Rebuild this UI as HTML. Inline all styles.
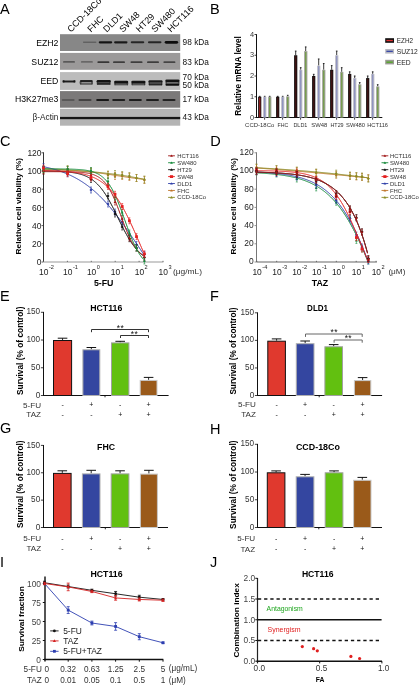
<!DOCTYPE html>
<html><head><meta charset="utf-8"><title>Figure</title>
<style>
html,body{margin:0;padding:0;background:#fff;width:419px;height:685px;overflow:hidden;}
svg{display:block;will-change:transform;font-family:"Liberation Sans", sans-serif;}
</style></head><body>
<svg width="419" height="685" viewBox="0 0 419 685">

<text x="0.00" y="13.50" font-size="14.5" >A</text>
<text x="210.00" y="13.60" font-size="14.5" >B</text>
<text x="0.00" y="145.80" font-size="14.5" >C</text>
<text x="210.30" y="145.80" font-size="14.5" >D</text>
<text x="0.00" y="300.80" font-size="14.5" >E</text>
<text x="210.00" y="300.90" font-size="14.5" >F</text>
<text x="0.00" y="433.30" font-size="14.5" >G</text>
<text x="210.00" y="433.50" font-size="14.5" >H</text>
<text x="0.00" y="566.70" font-size="14.5" >I</text>
<text x="210.00" y="566.90" font-size="14.5" >J</text>
<defs><filter id="bl" x="-20%" y="-100%" width="140%" height="300%"><feGaussianBlur stdDeviation="0.75"/></filter><filter id="bl2" x="-20%" y="-100%" width="140%" height="300%"><feGaussianBlur stdDeviation="0.45"/></filter></defs>
<rect x="60.00" y="34.20" width="120.20" height="16.80" fill="#878787" />
<rect x="60.00" y="52.90" width="120.20" height="16.90" fill="#9b9999" />
<rect x="60.00" y="72.10" width="120.20" height="17.80" fill="#bcbcbc" />
<rect x="60.00" y="91.10" width="120.20" height="16.60" fill="#7b7979" />
<rect x="60.00" y="108.80" width="120.20" height="16.90" fill="#b4b4b4" />
<rect x="82.95" y="41.60" width="13.50" height="1.40" rx="0.70" fill="#111" opacity="0.3" filter="url(#bl)"/>
<rect x="98.75" y="41.15" width="13.50" height="2.30" rx="1.15" fill="#111" opacity="0.95" filter="url(#bl)"/>
<rect x="114.05" y="41.20" width="13.50" height="2.20" rx="1.10" fill="#111" opacity="0.9" filter="url(#bl)"/>
<rect x="130.75" y="41.30" width="13.50" height="2.00" rx="1.00" fill="#111" opacity="0.8" filter="url(#bl)"/>
<rect x="147.95" y="41.30" width="13.50" height="2.00" rx="1.00" fill="#111" opacity="0.8" filter="url(#bl)"/>
<rect x="164.65" y="40.90" width="13.50" height="2.80" rx="1.40" fill="#111" opacity="1.0" filter="url(#bl)"/>
<rect x="63.00" y="61.05" width="12.00" height="1.70" rx="0.85" fill="#111" opacity="0.45" filter="url(#bl)"/>
<rect x="80.90" y="61.05" width="12.00" height="1.70" rx="0.85" fill="#111" opacity="0.35" filter="url(#bl)"/>
<rect x="97.40" y="61.35" width="12.00" height="1.70" rx="0.85" fill="#111" opacity="0.7" filter="url(#bl)"/>
<rect x="113.00" y="61.35" width="12.00" height="1.70" rx="0.85" fill="#111" opacity="0.65" filter="url(#bl)"/>
<rect x="130.50" y="61.35" width="12.00" height="1.70" rx="0.85" fill="#111" opacity="0.65" filter="url(#bl)"/>
<rect x="147.00" y="61.35" width="12.00" height="1.70" rx="0.85" fill="#111" opacity="0.65" filter="url(#bl)"/>
<rect x="163.40" y="61.35" width="12.00" height="1.70" rx="0.85" fill="#111" opacity="0.6" filter="url(#bl)"/>
<rect x="63.00" y="80.40" width="12.00" height="2.00" rx="1.00" fill="#111" opacity="0.9" filter="url(#bl2)"/>
<rect x="62.40" y="80.00" width="2.20" height="2.80" rx="1.40" fill="#111" opacity="0.75" filter="url(#bl2)"/>
<rect x="73.40" y="80.00" width="2.20" height="2.80" rx="1.40" fill="#111" opacity="0.75" filter="url(#bl2)"/>
<rect x="80.80" y="81.05" width="11.00" height="2.50" rx="1.25" fill="#111" opacity="0.25" filter="url(#bl2)"/>
<rect x="80.05" y="80.10" width="12.50" height="1.80" rx="0.90" fill="#111" opacity="0.85" filter="url(#bl2)"/>
<rect x="80.05" y="83.15" width="12.50" height="1.50" rx="0.75" fill="#111" opacity="0.6" filter="url(#bl2)"/>
<rect x="79.60" y="80.40" width="1.80" height="4.00" rx="2.00" fill="#111" opacity="0.6" filter="url(#bl2)"/>
<rect x="91.20" y="80.40" width="1.80" height="4.00" rx="2.00" fill="#111" opacity="0.6" filter="url(#bl2)"/>
<rect x="97.20" y="81.20" width="13.00" height="2.90" rx="1.45" fill="#111" opacity="0.45" filter="url(#bl2)"/>
<rect x="96.70" y="80.00" width="14.00" height="2.40" rx="1.20" fill="#111" opacity="0.95" filter="url(#bl2)"/>
<rect x="96.95" y="83.10" width="13.50" height="2.00" rx="1.00" fill="#111" opacity="0.7" filter="url(#bl2)"/>
<rect x="96.60" y="80.20" width="1.60" height="4.90" rx="2.45" fill="#111" opacity="0.5" filter="url(#bl2)"/>
<rect x="109.20" y="80.20" width="1.60" height="4.90" rx="2.45" fill="#111" opacity="0.5" filter="url(#bl2)"/>
<rect x="114.70" y="82.00" width="13.00" height="2.50" rx="1.25" fill="#111" opacity="0.45" filter="url(#bl2)"/>
<rect x="114.20" y="80.80" width="14.00" height="2.40" rx="1.20" fill="#111" opacity="0.95" filter="url(#bl2)"/>
<rect x="114.45" y="83.50" width="13.50" height="2.00" rx="1.00" fill="#111" opacity="0.44999999999999996" filter="url(#bl2)"/>
<rect x="114.10" y="81.00" width="1.60" height="4.50" rx="2.25" fill="#111" opacity="0.5" filter="url(#bl2)"/>
<rect x="126.70" y="81.00" width="1.60" height="4.50" rx="2.25" fill="#111" opacity="0.5" filter="url(#bl2)"/>
<rect x="131.90" y="82.00" width="13.00" height="2.50" rx="1.25" fill="#111" opacity="0.45" filter="url(#bl2)"/>
<rect x="131.40" y="80.80" width="14.00" height="2.40" rx="1.20" fill="#111" opacity="0.95" filter="url(#bl2)"/>
<rect x="131.65" y="83.50" width="13.50" height="2.00" rx="1.00" fill="#111" opacity="0.44999999999999996" filter="url(#bl2)"/>
<rect x="131.30" y="81.00" width="1.60" height="4.50" rx="2.25" fill="#111" opacity="0.5" filter="url(#bl2)"/>
<rect x="143.90" y="81.00" width="1.60" height="4.50" rx="2.25" fill="#111" opacity="0.5" filter="url(#bl2)"/>
<rect x="149.00" y="81.40" width="13.00" height="3.10" rx="1.55" fill="#111" opacity="0.45" filter="url(#bl2)"/>
<rect x="148.50" y="80.20" width="14.00" height="2.40" rx="1.20" fill="#111" opacity="0.9" filter="url(#bl2)"/>
<rect x="148.75" y="83.50" width="13.50" height="2.00" rx="1.00" fill="#111" opacity="0.7999999999999999" filter="url(#bl2)"/>
<rect x="148.40" y="80.40" width="1.60" height="5.10" rx="2.55" fill="#111" opacity="0.5" filter="url(#bl2)"/>
<rect x="161.00" y="80.40" width="1.60" height="5.10" rx="2.55" fill="#111" opacity="0.5" filter="url(#bl2)"/>
<rect x="165.90" y="80.70" width="13.00" height="4.00" rx="2.00" fill="#111" opacity="0.45" filter="url(#bl2)"/>
<rect x="165.40" y="79.50" width="14.00" height="2.40" rx="1.20" fill="#111" opacity="0.95" filter="url(#bl2)"/>
<rect x="165.65" y="83.70" width="13.50" height="2.00" rx="1.00" fill="#111" opacity="1" filter="url(#bl2)"/>
<rect x="165.30" y="79.70" width="1.60" height="6.00" rx="3.00" fill="#111" opacity="0.5" filter="url(#bl2)"/>
<rect x="177.90" y="79.70" width="1.60" height="6.00" rx="3.00" fill="#111" opacity="0.5" filter="url(#bl2)"/>
<rect x="61.70" y="99.10" width="13.00" height="2.00" rx="1.00" fill="#111" opacity="0.3" filter="url(#bl)"/>
<rect x="78.50" y="99.10" width="13.00" height="2.00" rx="1.00" fill="#111" opacity="0.5" filter="url(#bl)"/>
<rect x="96.10" y="99.10" width="13.00" height="2.00" rx="1.00" fill="#111" opacity="0.9" filter="url(#bl)"/>
<rect x="112.20" y="99.10" width="13.00" height="2.00" rx="1.00" fill="#111" opacity="0.85" filter="url(#bl)"/>
<rect x="128.90" y="99.10" width="13.00" height="2.00" rx="1.00" fill="#111" opacity="0.85" filter="url(#bl)"/>
<rect x="146.00" y="99.10" width="13.00" height="2.00" rx="1.00" fill="#111" opacity="0.85" filter="url(#bl)"/>
<rect x="162.50" y="99.10" width="13.00" height="2.00" rx="1.00" fill="#111" opacity="0.8" filter="url(#bl)"/>
<rect x="60.00" y="116.9" width="120.20" height="2.3" fill="#111" opacity="0.95" filter="url(#bl2)"/>
<text x="58.40" y="46.00" font-size="8.7" text-anchor="end" >EZH2</text>
<text x="182.60" y="45.30" font-size="8.3" fill="#111" >98 kDa</text>
<text x="58.40" y="65.00" font-size="8.7" text-anchor="end" >SUZ12</text>
<text x="182.60" y="65.00" font-size="8.3" fill="#111" >83 kDa</text>
<text x="58.40" y="84.00" font-size="8.7" text-anchor="end" >EED</text>
<text x="182.60" y="79.60" font-size="8.3" fill="#111" >70 kDa</text>
<text x="182.60" y="87.60" font-size="8.3" fill="#111" >50 kDa</text>
<text x="58.40" y="102.40" font-size="8.7" text-anchor="end" >H3K27me3</text>
<text x="182.60" y="102.20" font-size="8.3" fill="#111" >17 kDa</text>
<text x="58.40" y="119.90" font-size="8.7" text-anchor="end" fill="#222" textLength="25.80" lengthAdjust="spacingAndGlyphs" >&#946;-Actin</text>
<text x="182.60" y="119.70" font-size="8.3" fill="#111" >43 kDa</text>
<text x="71.00" y="32.70" font-size="9.0" transform="rotate(-45 71.00 32.70)" >CCD-18Co</text>
<text x="91.00" y="32.70" font-size="9.0" transform="rotate(-45 91.00 32.70)" >FHC</text>
<text x="106.80" y="32.70" font-size="9.0" transform="rotate(-45 106.80 32.70)" >DLD1</text>
<text x="123.00" y="32.70" font-size="9.0" transform="rotate(-45 123.00 32.70)" >SW48</text>
<text x="139.50" y="32.70" font-size="9.0" transform="rotate(-45 139.50 32.70)" >HT29</text>
<text x="155.00" y="32.70" font-size="9.0" transform="rotate(-45 155.00 32.70)" >SW480</text>
<text x="171.00" y="32.70" font-size="9.0" transform="rotate(-45 171.00 32.70)" >HCT116</text>
<line x1="256.50" y1="34.20" x2="256.50" y2="118.00" stroke="#111" stroke-width="1" />
<line x1="256.00" y1="117.50" x2="382.30" y2="117.50" stroke="#111" stroke-width="1" />
<line x1="254.50" y1="117.50" x2="256.50" y2="117.50" stroke="#111" stroke-width="0.8" />
<text x="254.00" y="119.50" font-size="7.4" text-anchor="end" fill="#333" >0</text>
<line x1="254.50" y1="96.75" x2="256.50" y2="96.75" stroke="#111" stroke-width="0.8" />
<text x="254.00" y="98.75" font-size="7.4" text-anchor="end" fill="#333" >1</text>
<line x1="254.50" y1="76.00" x2="256.50" y2="76.00" stroke="#111" stroke-width="0.8" />
<text x="254.00" y="78.00" font-size="7.4" text-anchor="end" fill="#333" >2</text>
<line x1="254.50" y1="55.25" x2="256.50" y2="55.25" stroke="#111" stroke-width="0.8" />
<text x="254.00" y="57.25" font-size="7.4" text-anchor="end" fill="#333" >3</text>
<line x1="254.50" y1="34.50" x2="256.50" y2="34.50" stroke="#111" stroke-width="0.8" />
<text x="254.00" y="36.50" font-size="7.4" text-anchor="end" fill="#333" >4</text>
<line x1="264.60" y1="117.50" x2="264.60" y2="119.70" stroke="#111" stroke-width="0.8" />
<line x1="282.60" y1="117.50" x2="282.60" y2="119.70" stroke="#111" stroke-width="0.8" />
<line x1="300.60" y1="117.50" x2="300.60" y2="119.70" stroke="#111" stroke-width="0.8" />
<line x1="318.60" y1="117.50" x2="318.60" y2="119.70" stroke="#111" stroke-width="0.8" />
<line x1="336.60" y1="117.50" x2="336.60" y2="119.70" stroke="#111" stroke-width="0.8" />
<line x1="354.60" y1="117.50" x2="354.60" y2="119.70" stroke="#111" stroke-width="0.8" />
<line x1="372.60" y1="117.50" x2="372.60" y2="119.70" stroke="#111" stroke-width="0.8" />
<line x1="259.70" y1="96.75" x2="259.70" y2="96.34" stroke="#222" stroke-width="0.9" />
<line x1="258.90" y1="96.34" x2="260.50" y2="96.34" stroke="#222" stroke-width="1.0" />
<rect x="258.10" y="96.75" width="3.20" height="20.75" fill="#121010" />
<rect x="258.90" y="97.55" width="1.60" height="19.95" fill="#8a1c1c" />
<line x1="264.70" y1="96.75" x2="264.70" y2="96.34" stroke="#222" stroke-width="0.9" />
<line x1="263.90" y1="96.34" x2="265.50" y2="96.34" stroke="#222" stroke-width="1.0" />
<rect x="263.10" y="96.75" width="3.30" height="20.75" fill="#c2c2c8" />
<rect x="263.90" y="97.25" width="1.50" height="20.25" fill="#9094c0" />
<line x1="269.70" y1="96.75" x2="269.70" y2="96.34" stroke="#222" stroke-width="0.9" />
<line x1="268.90" y1="96.34" x2="270.50" y2="96.34" stroke="#222" stroke-width="1.0" />
<rect x="268.10" y="96.75" width="3.30" height="20.75" fill="#a4a49e" />
<rect x="269.20" y="97.55" width="1.10" height="19.95" fill="#6c9c3a" />
<line x1="277.70" y1="96.75" x2="277.70" y2="96.34" stroke="#222" stroke-width="0.9" />
<line x1="276.90" y1="96.34" x2="278.50" y2="96.34" stroke="#222" stroke-width="1.0" />
<rect x="276.10" y="96.75" width="3.20" height="20.75" fill="#121010" />
<rect x="276.90" y="97.55" width="1.60" height="19.95" fill="#3e1212" />
<line x1="282.70" y1="96.75" x2="282.70" y2="96.34" stroke="#222" stroke-width="0.9" />
<line x1="281.90" y1="96.34" x2="283.50" y2="96.34" stroke="#222" stroke-width="1.0" />
<rect x="281.10" y="96.75" width="3.30" height="20.75" fill="#c2c2c8" />
<rect x="281.90" y="97.25" width="1.50" height="20.25" fill="#9094c0" />
<line x1="287.70" y1="96.34" x2="287.70" y2="95.30" stroke="#222" stroke-width="0.9" />
<line x1="286.90" y1="95.30" x2="288.50" y2="95.30" stroke="#222" stroke-width="1.0" />
<rect x="286.10" y="96.34" width="3.30" height="21.16" fill="#a4a49e" />
<rect x="287.20" y="97.14" width="1.10" height="20.36" fill="#6c9c3a" />
<line x1="295.70" y1="55.25" x2="295.70" y2="51.10" stroke="#222" stroke-width="0.9" />
<line x1="294.90" y1="51.10" x2="296.50" y2="51.10" stroke="#222" stroke-width="1.0" />
<rect x="294.10" y="55.25" width="3.20" height="62.25" fill="#121010" />
<rect x="294.90" y="56.05" width="1.60" height="61.45" fill="#3e1212" />
<line x1="300.70" y1="69.78" x2="300.70" y2="67.70" stroke="#222" stroke-width="0.9" />
<line x1="299.90" y1="67.70" x2="301.50" y2="67.70" stroke="#222" stroke-width="1.0" />
<rect x="299.10" y="69.78" width="3.30" height="47.72" fill="#c2c2c8" />
<rect x="299.90" y="70.28" width="1.50" height="47.22" fill="#9094c0" />
<line x1="305.70" y1="51.10" x2="305.70" y2="46.95" stroke="#222" stroke-width="0.9" />
<line x1="304.90" y1="46.95" x2="306.50" y2="46.95" stroke="#222" stroke-width="1.0" />
<rect x="304.10" y="51.10" width="3.30" height="66.40" fill="#a4a49e" />
<rect x="305.20" y="51.90" width="1.10" height="65.60" fill="#6c9c3a" />
<line x1="313.70" y1="76.00" x2="313.70" y2="74.34" stroke="#222" stroke-width="0.9" />
<line x1="312.90" y1="74.34" x2="314.50" y2="74.34" stroke="#222" stroke-width="1.0" />
<rect x="312.10" y="76.00" width="3.20" height="41.50" fill="#121010" />
<rect x="312.90" y="76.80" width="1.60" height="40.70" fill="#3e1212" />
<line x1="318.70" y1="65.62" x2="318.70" y2="58.99" stroke="#222" stroke-width="0.9" />
<line x1="317.90" y1="58.99" x2="319.50" y2="58.99" stroke="#222" stroke-width="1.0" />
<rect x="317.10" y="65.62" width="3.30" height="51.88" fill="#c2c2c8" />
<rect x="317.90" y="66.12" width="1.50" height="51.38" fill="#9094c0" />
<line x1="323.70" y1="69.78" x2="323.70" y2="63.55" stroke="#222" stroke-width="0.9" />
<line x1="322.90" y1="63.55" x2="324.50" y2="63.55" stroke="#222" stroke-width="1.0" />
<rect x="322.10" y="69.78" width="3.30" height="47.72" fill="#a4a49e" />
<rect x="323.20" y="70.58" width="1.10" height="46.92" fill="#6c9c3a" />
<line x1="331.70" y1="69.78" x2="331.70" y2="65.62" stroke="#222" stroke-width="0.9" />
<line x1="330.90" y1="65.62" x2="332.50" y2="65.62" stroke="#222" stroke-width="1.0" />
<rect x="330.10" y="69.78" width="3.20" height="47.72" fill="#121010" />
<rect x="330.90" y="70.58" width="1.60" height="46.92" fill="#3e1212" />
<line x1="336.70" y1="55.25" x2="336.70" y2="51.10" stroke="#222" stroke-width="0.9" />
<line x1="335.90" y1="51.10" x2="337.50" y2="51.10" stroke="#222" stroke-width="1.0" />
<rect x="335.10" y="55.25" width="3.30" height="62.25" fill="#c2c2c8" />
<rect x="335.90" y="55.75" width="1.50" height="61.75" fill="#9094c0" />
<line x1="341.70" y1="71.85" x2="341.70" y2="67.70" stroke="#222" stroke-width="0.9" />
<line x1="340.90" y1="67.70" x2="342.50" y2="67.70" stroke="#222" stroke-width="1.0" />
<rect x="340.10" y="71.85" width="3.30" height="45.65" fill="#a4a49e" />
<rect x="341.20" y="72.65" width="1.10" height="44.85" fill="#6c9c3a" />
<line x1="349.70" y1="73.92" x2="349.70" y2="71.85" stroke="#222" stroke-width="0.9" />
<line x1="348.90" y1="71.85" x2="350.50" y2="71.85" stroke="#222" stroke-width="1.0" />
<rect x="348.10" y="73.92" width="3.20" height="43.58" fill="#121010" />
<rect x="348.90" y="74.72" width="1.60" height="42.78" fill="#3e1212" />
<line x1="354.70" y1="78.08" x2="354.70" y2="76.00" stroke="#222" stroke-width="0.9" />
<line x1="353.90" y1="76.00" x2="355.50" y2="76.00" stroke="#222" stroke-width="1.0" />
<rect x="353.10" y="78.08" width="3.30" height="39.42" fill="#c2c2c8" />
<rect x="353.90" y="78.58" width="1.50" height="38.92" fill="#9094c0" />
<line x1="359.70" y1="84.30" x2="359.70" y2="82.64" stroke="#222" stroke-width="0.9" />
<line x1="358.90" y1="82.64" x2="360.50" y2="82.64" stroke="#222" stroke-width="1.0" />
<rect x="358.10" y="84.30" width="3.30" height="33.20" fill="#a4a49e" />
<rect x="359.20" y="85.10" width="1.10" height="32.40" fill="#6c9c3a" />
<line x1="367.70" y1="78.08" x2="367.70" y2="76.00" stroke="#222" stroke-width="0.9" />
<line x1="366.90" y1="76.00" x2="368.50" y2="76.00" stroke="#222" stroke-width="1.0" />
<rect x="366.10" y="78.08" width="3.20" height="39.42" fill="#121010" />
<rect x="366.90" y="78.88" width="1.60" height="38.62" fill="#3e1212" />
<line x1="372.70" y1="73.92" x2="372.70" y2="71.85" stroke="#222" stroke-width="0.9" />
<line x1="371.90" y1="71.85" x2="373.50" y2="71.85" stroke="#222" stroke-width="1.0" />
<rect x="371.10" y="73.92" width="3.30" height="43.58" fill="#c2c2c8" />
<rect x="371.90" y="74.42" width="1.50" height="43.08" fill="#9094c0" />
<line x1="377.70" y1="86.38" x2="377.70" y2="84.72" stroke="#222" stroke-width="0.9" />
<line x1="376.90" y1="84.72" x2="378.50" y2="84.72" stroke="#222" stroke-width="1.0" />
<rect x="376.10" y="86.38" width="3.30" height="31.12" fill="#a4a49e" />
<rect x="377.20" y="87.17" width="1.10" height="30.32" fill="#6c9c3a" />
<text x="245.10" y="126.90" font-size="5.8" fill="#333" textLength="29.20" lengthAdjust="spacingAndGlyphs" >CCD-18Co</text>
<text x="277.60" y="126.90" font-size="5.8" fill="#333" textLength="10.80" lengthAdjust="spacingAndGlyphs" >FHC</text>
<text x="293.40" y="126.90" font-size="5.8" fill="#333" textLength="14.00" lengthAdjust="spacingAndGlyphs" >DLD1</text>
<text x="311.20" y="126.90" font-size="5.8" fill="#333" textLength="16.10" lengthAdjust="spacingAndGlyphs" >SW48</text>
<text x="330.50" y="126.90" font-size="5.8" fill="#333" textLength="13.10" lengthAdjust="spacingAndGlyphs" >HT29</text>
<text x="346.00" y="126.90" font-size="5.8" fill="#333" textLength="19.10" lengthAdjust="spacingAndGlyphs" >SW480</text>
<text x="367.20" y="126.90" font-size="5.8" fill="#333" textLength="20.80" lengthAdjust="spacingAndGlyphs" >HCT116</text>
<rect x="385.20" y="38.20" width="8.80" height="4.60" fill="#111" />
<rect x="386.40" y="39.90" width="6.40" height="1.30" fill="#e03030" />
<text x="396.80" y="42.90" font-size="6.8" fill="#222" textLength="16.20" lengthAdjust="spacingAndGlyphs" >EZH2</text>
<rect x="385.20" y="49.00" width="8.80" height="4.60" fill="#b8b8c0" />
<rect x="386.40" y="50.70" width="6.40" height="1.30" fill="#3a4aa8" />
<text x="396.80" y="53.70" font-size="6.8" fill="#222" textLength="20.90" lengthAdjust="spacingAndGlyphs" >SUZ12</text>
<rect x="385.20" y="59.80" width="8.80" height="4.60" fill="#9a9a92" />
<rect x="386.40" y="61.50" width="6.40" height="1.30" fill="#4ea820" />
<text x="396.80" y="64.50" font-size="6.8" fill="#222" textLength="13.90" lengthAdjust="spacingAndGlyphs" >EED</text>
<text x="240.60" y="75.90" font-size="8.2" text-anchor="middle" font-weight="bold" textLength="79.50" lengthAdjust="spacingAndGlyphs" transform="rotate(-90 240.60 75.90)" >Relative mRNA level</text>
<line x1="43.50" y1="152.30" x2="43.50" y2="262.00" stroke="#333" stroke-width="1" />
<line x1="41.50" y1="262.00" x2="43.50" y2="262.00" stroke="#333" stroke-width="0.8" />
<text x="41.50" y="265.30" font-size="8.5" text-anchor="end" fill="#222" textLength="4.70" lengthAdjust="spacingAndGlyphs" >0</text>
<line x1="41.50" y1="243.80" x2="43.50" y2="243.80" stroke="#333" stroke-width="0.8" />
<text x="41.50" y="247.10" font-size="8.5" text-anchor="end" fill="#222" textLength="9.40" lengthAdjust="spacingAndGlyphs" >20</text>
<line x1="41.50" y1="225.60" x2="43.50" y2="225.60" stroke="#333" stroke-width="0.8" />
<text x="41.50" y="228.90" font-size="8.5" text-anchor="end" fill="#222" textLength="9.40" lengthAdjust="spacingAndGlyphs" >40</text>
<line x1="41.50" y1="207.40" x2="43.50" y2="207.40" stroke="#333" stroke-width="0.8" />
<text x="41.50" y="210.70" font-size="8.5" text-anchor="end" fill="#222" textLength="9.40" lengthAdjust="spacingAndGlyphs" >60</text>
<line x1="41.50" y1="189.20" x2="43.50" y2="189.20" stroke="#333" stroke-width="0.8" />
<text x="41.50" y="192.50" font-size="8.5" text-anchor="end" fill="#222" textLength="9.40" lengthAdjust="spacingAndGlyphs" >80</text>
<line x1="41.50" y1="171.00" x2="43.50" y2="171.00" stroke="#333" stroke-width="0.8" />
<text x="41.50" y="174.30" font-size="8.5" text-anchor="end" fill="#222" textLength="14.10" lengthAdjust="spacingAndGlyphs" >100</text>
<line x1="41.50" y1="152.80" x2="43.50" y2="152.80" stroke="#333" stroke-width="0.8" />
<text x="41.50" y="156.10" font-size="8.5" text-anchor="end" fill="#222" textLength="14.10" lengthAdjust="spacingAndGlyphs" >120</text>
<line x1="43.50" y1="262.00" x2="163.40" y2="262.00" stroke="#bbb" stroke-width="1.3" />
<line x1="43.50" y1="260.80" x2="43.50" y2="262.00" stroke="#555" stroke-width="0.8" />
<text x="43.80" y="274.80" font-size="8.5" text-anchor="middle" fill="#222" textLength="9.40" lengthAdjust="spacingAndGlyphs" >10</text>
<text x="49.00" y="268.80" font-size="5.6" fill="#222" >-2</text>
<line x1="67.40" y1="260.80" x2="67.40" y2="262.00" stroke="#555" stroke-width="0.8" />
<text x="67.70" y="274.80" font-size="8.5" text-anchor="middle" fill="#222" textLength="9.40" lengthAdjust="spacingAndGlyphs" >10</text>
<text x="72.90" y="268.80" font-size="5.6" fill="#222" >-1</text>
<line x1="91.30" y1="260.80" x2="91.30" y2="262.00" stroke="#555" stroke-width="0.8" />
<text x="91.60" y="274.80" font-size="8.5" text-anchor="middle" fill="#222" textLength="9.40" lengthAdjust="spacingAndGlyphs" >10</text>
<text x="96.80" y="268.80" font-size="5.6" fill="#222" >0</text>
<line x1="115.20" y1="260.80" x2="115.20" y2="262.00" stroke="#555" stroke-width="0.8" />
<text x="115.50" y="274.80" font-size="8.5" text-anchor="middle" fill="#222" textLength="9.40" lengthAdjust="spacingAndGlyphs" >10</text>
<text x="120.70" y="268.80" font-size="5.6" fill="#222" >1</text>
<line x1="139.10" y1="260.80" x2="139.10" y2="262.00" stroke="#555" stroke-width="0.8" />
<text x="139.40" y="274.80" font-size="8.5" text-anchor="middle" fill="#222" textLength="9.40" lengthAdjust="spacingAndGlyphs" >10</text>
<text x="144.60" y="268.80" font-size="5.6" fill="#222" >2</text>
<line x1="163.00" y1="260.80" x2="163.00" y2="262.00" stroke="#555" stroke-width="0.8" />
<text x="163.30" y="274.80" font-size="8.5" text-anchor="middle" fill="#222" textLength="9.40" lengthAdjust="spacingAndGlyphs" >10</text>
<text x="168.50" y="268.80" font-size="5.6" fill="#222" >3</text>
<text x="172.90" y="274.30" font-size="8.0" fill="#333" textLength="29.20" lengthAdjust="spacingAndGlyphs" >(&#956;g/mL)</text>
<text x="103.70" y="286.20" font-size="8.8" text-anchor="middle" font-weight="bold" >5-FU</text>
<path d="M43.50,169.63 L44.50,169.65 L45.50,169.67 L46.50,169.69 L47.50,169.71 L48.50,169.73 L49.50,169.75 L50.50,169.77 L51.50,169.79 L52.50,169.82 L53.50,169.84 L54.50,169.87 L55.50,169.90 L56.50,169.93 L57.50,169.96 L58.50,169.99 L59.50,170.02 L60.50,170.06 L61.50,170.09 L62.50,170.13 L63.50,170.17 L64.50,170.21 L65.50,170.25 L66.50,170.29 L67.50,170.34 L68.50,170.39 L69.50,170.44 L70.50,170.49 L71.50,170.54 L72.50,170.60 L73.50,170.66 L74.50,170.72 L75.50,170.78 L76.50,170.85 L77.50,170.91 L78.50,170.98 L79.50,171.06 L80.50,171.13 L81.50,171.21 L82.50,171.29 L83.50,171.37 L84.50,171.46 L85.50,171.54 L86.50,171.64 L87.50,171.73 L88.50,171.83 L89.50,171.93 L90.50,172.03 L91.50,172.14 L92.50,172.24 L93.50,172.36 L94.50,172.47 L95.50,172.59 L96.50,172.71 L97.50,172.83 L98.50,172.95 L99.50,173.08 L100.50,173.21 L101.50,173.35 L102.50,173.48 L103.50,173.62 L104.50,173.76 L105.50,173.90 L106.50,174.04 L107.50,174.19 L108.50,174.34 L109.50,174.49 L110.50,174.64 L111.50,174.79 L112.50,174.94 L113.50,175.09 L114.50,175.25 L115.50,175.40 L116.50,175.56 L117.50,175.71 L118.50,175.87 L119.50,176.02 L120.50,176.18 L121.50,176.33 L122.50,176.49 L123.50,176.64 L124.50,176.79 L125.50,176.94 L126.50,177.09 L127.50,177.24 L128.50,177.39 L129.50,177.53 L130.50,177.67 L131.50,177.82 L132.50,177.95 L133.50,178.09 L134.50,178.22 L135.50,178.36 L136.50,178.48 L137.50,178.61 L138.50,178.73 L139.50,178.86 L140.50,178.97 L141.50,179.09 L142.50,179.20 L143.50,179.31" fill="none" stroke="#c07428" stroke-width="1.0"/>
<line x1="43.50" y1="166.50" x2="43.50" y2="173.50" stroke="#c07428" stroke-width="0.6" />
<line x1="42.50" y1="166.50" x2="44.50" y2="166.50" stroke="#c07428" stroke-width="0.6" />
<line x1="42.50" y1="173.50" x2="44.50" y2="173.50" stroke="#c07428" stroke-width="0.6" />
<path d="M42.10,171.10 L44.90,171.10 L43.50,168.60Z" fill="#c07428"/>
<line x1="67.60" y1="166.50" x2="67.60" y2="173.50" stroke="#c07428" stroke-width="0.6" />
<line x1="66.60" y1="166.50" x2="68.60" y2="166.50" stroke="#c07428" stroke-width="0.6" />
<line x1="66.60" y1="173.50" x2="68.60" y2="173.50" stroke="#c07428" stroke-width="0.6" />
<path d="M66.20,171.10 L69.00,171.10 L67.60,168.60Z" fill="#c07428"/>
<line x1="91.00" y1="168.00" x2="91.00" y2="175.00" stroke="#c07428" stroke-width="0.6" />
<line x1="90.00" y1="168.00" x2="92.00" y2="168.00" stroke="#c07428" stroke-width="0.6" />
<line x1="90.00" y1="175.00" x2="92.00" y2="175.00" stroke="#c07428" stroke-width="0.6" />
<path d="M89.60,172.60 L92.40,172.60 L91.00,170.10Z" fill="#c07428"/>
<line x1="108.00" y1="171.50" x2="108.00" y2="178.50" stroke="#c07428" stroke-width="0.6" />
<line x1="107.00" y1="171.50" x2="109.00" y2="171.50" stroke="#c07428" stroke-width="0.6" />
<line x1="107.00" y1="178.50" x2="109.00" y2="178.50" stroke="#c07428" stroke-width="0.6" />
<path d="M106.60,176.10 L109.40,176.10 L108.00,173.60Z" fill="#c07428"/>
<line x1="115.00" y1="172.50" x2="115.00" y2="179.50" stroke="#c07428" stroke-width="0.6" />
<line x1="114.00" y1="172.50" x2="116.00" y2="172.50" stroke="#c07428" stroke-width="0.6" />
<line x1="114.00" y1="179.50" x2="116.00" y2="179.50" stroke="#c07428" stroke-width="0.6" />
<path d="M113.60,177.10 L116.40,177.10 L115.00,174.60Z" fill="#c07428"/>
<line x1="122.20" y1="172.50" x2="122.20" y2="179.50" stroke="#c07428" stroke-width="0.6" />
<line x1="121.20" y1="172.50" x2="123.20" y2="172.50" stroke="#c07428" stroke-width="0.6" />
<line x1="121.20" y1="179.50" x2="123.20" y2="179.50" stroke="#c07428" stroke-width="0.6" />
<path d="M120.80,177.10 L123.60,177.10 L122.20,174.60Z" fill="#c07428"/>
<line x1="129.40" y1="173.50" x2="129.40" y2="180.50" stroke="#c07428" stroke-width="0.6" />
<line x1="128.40" y1="173.50" x2="130.40" y2="173.50" stroke="#c07428" stroke-width="0.6" />
<line x1="128.40" y1="180.50" x2="130.40" y2="180.50" stroke="#c07428" stroke-width="0.6" />
<path d="M128.00,178.10 L130.80,178.10 L129.40,175.60Z" fill="#c07428"/>
<line x1="136.50" y1="174.50" x2="136.50" y2="181.50" stroke="#c07428" stroke-width="0.6" />
<line x1="135.50" y1="174.50" x2="137.50" y2="174.50" stroke="#c07428" stroke-width="0.6" />
<line x1="135.50" y1="181.50" x2="137.50" y2="181.50" stroke="#c07428" stroke-width="0.6" />
<path d="M135.10,179.10 L137.90,179.10 L136.50,176.60Z" fill="#c07428"/>
<line x1="144.40" y1="176.50" x2="144.40" y2="183.50" stroke="#c07428" stroke-width="0.6" />
<line x1="143.40" y1="176.50" x2="145.40" y2="176.50" stroke="#c07428" stroke-width="0.6" />
<line x1="143.40" y1="183.50" x2="145.40" y2="183.50" stroke="#c07428" stroke-width="0.6" />
<path d="M143.00,181.10 L145.80,181.10 L144.40,178.60Z" fill="#c07428"/>
<path d="M43.50,168.64 L44.50,168.68 L45.50,168.73 L46.50,168.77 L47.50,168.81 L48.50,168.86 L49.50,168.91 L50.50,168.95 L51.50,169.00 L52.50,169.05 L53.50,169.10 L54.50,169.15 L55.50,169.20 L56.50,169.25 L57.50,169.31 L58.50,169.36 L59.50,169.41 L60.50,169.47 L61.50,169.53 L62.50,169.58 L63.50,169.64 L64.50,169.70 L65.50,169.76 L66.50,169.82 L67.50,169.88 L68.50,169.95 L69.50,170.01 L70.50,170.07 L71.50,170.14 L72.50,170.21 L73.50,170.28 L74.50,170.35 L75.50,170.42 L76.50,170.49 L77.50,170.56 L78.50,170.63 L79.50,170.71 L80.50,170.79 L81.50,170.86 L82.50,170.94 L83.50,171.02 L84.50,171.10 L85.50,171.19 L86.50,171.27 L87.50,171.36 L88.50,171.44 L89.50,171.53 L90.50,171.62 L91.50,171.71 L92.50,171.80 L93.50,171.90 L94.50,171.99 L95.50,172.09 L96.50,172.19 L97.50,172.29 L98.50,172.39 L99.50,172.50 L100.50,172.60 L101.50,172.71 L102.50,172.82 L103.50,172.93 L104.50,173.04 L105.50,173.15 L106.50,173.27 L107.50,173.39 L108.50,173.51 L109.50,173.63 L110.50,173.75 L111.50,173.88 L112.50,174.01 L113.50,174.14 L114.50,174.27 L115.50,174.40 L116.50,174.54 L117.50,174.68 L118.50,174.82 L119.50,174.96 L120.50,175.11 L121.50,175.25 L122.50,175.40 L123.50,175.56 L124.50,175.71 L125.50,175.87 L126.50,176.03 L127.50,176.19 L128.50,176.36 L129.50,176.52 L130.50,176.70 L131.50,176.87 L132.50,177.05 L133.50,177.22 L134.50,177.41 L135.50,177.59 L136.50,177.78 L137.50,177.97 L138.50,178.16 L139.50,178.36 L140.50,178.56 L141.50,178.77 L142.50,178.97 L143.50,179.18" fill="none" stroke="#8a8a22" stroke-width="1.0"/>
<line x1="43.50" y1="165.50" x2="43.50" y2="172.50" stroke="#8a8a22" stroke-width="0.6" />
<line x1="42.50" y1="165.50" x2="44.50" y2="165.50" stroke="#8a8a22" stroke-width="0.6" />
<line x1="42.50" y1="172.50" x2="44.50" y2="172.50" stroke="#8a8a22" stroke-width="0.6" />
<path d="M42.00,169.00 L43.50,167.50 L45.00,169.00 L43.50,170.50Z" fill="#8a8a22"/>
<line x1="67.60" y1="165.50" x2="67.60" y2="172.50" stroke="#8a8a22" stroke-width="0.6" />
<line x1="66.60" y1="165.50" x2="68.60" y2="165.50" stroke="#8a8a22" stroke-width="0.6" />
<line x1="66.60" y1="172.50" x2="68.60" y2="172.50" stroke="#8a8a22" stroke-width="0.6" />
<path d="M66.10,169.00 L67.60,167.50 L69.10,169.00 L67.60,170.50Z" fill="#8a8a22"/>
<line x1="91.00" y1="168.50" x2="91.00" y2="175.50" stroke="#8a8a22" stroke-width="0.6" />
<line x1="90.00" y1="168.50" x2="92.00" y2="168.50" stroke="#8a8a22" stroke-width="0.6" />
<line x1="90.00" y1="175.50" x2="92.00" y2="175.50" stroke="#8a8a22" stroke-width="0.6" />
<path d="M89.50,172.00 L91.00,170.50 L92.50,172.00 L91.00,173.50Z" fill="#8a8a22"/>
<line x1="108.00" y1="171.00" x2="108.00" y2="178.00" stroke="#8a8a22" stroke-width="0.6" />
<line x1="107.00" y1="171.00" x2="109.00" y2="171.00" stroke="#8a8a22" stroke-width="0.6" />
<line x1="107.00" y1="178.00" x2="109.00" y2="178.00" stroke="#8a8a22" stroke-width="0.6" />
<path d="M106.50,174.50 L108.00,173.00 L109.50,174.50 L108.00,176.00Z" fill="#8a8a22"/>
<line x1="115.00" y1="170.50" x2="115.00" y2="177.50" stroke="#8a8a22" stroke-width="0.6" />
<line x1="114.00" y1="170.50" x2="116.00" y2="170.50" stroke="#8a8a22" stroke-width="0.6" />
<line x1="114.00" y1="177.50" x2="116.00" y2="177.50" stroke="#8a8a22" stroke-width="0.6" />
<path d="M113.50,174.00 L115.00,172.50 L116.50,174.00 L115.00,175.50Z" fill="#8a8a22"/>
<line x1="122.20" y1="171.50" x2="122.20" y2="178.50" stroke="#8a8a22" stroke-width="0.6" />
<line x1="121.20" y1="171.50" x2="123.20" y2="171.50" stroke="#8a8a22" stroke-width="0.6" />
<line x1="121.20" y1="178.50" x2="123.20" y2="178.50" stroke="#8a8a22" stroke-width="0.6" />
<path d="M120.70,175.00 L122.20,173.50 L123.70,175.00 L122.20,176.50Z" fill="#8a8a22"/>
<line x1="129.40" y1="172.50" x2="129.40" y2="179.50" stroke="#8a8a22" stroke-width="0.6" />
<line x1="128.40" y1="172.50" x2="130.40" y2="172.50" stroke="#8a8a22" stroke-width="0.6" />
<line x1="128.40" y1="179.50" x2="130.40" y2="179.50" stroke="#8a8a22" stroke-width="0.6" />
<path d="M127.90,176.00 L129.40,174.50 L130.90,176.00 L129.40,177.50Z" fill="#8a8a22"/>
<line x1="136.50" y1="174.50" x2="136.50" y2="181.50" stroke="#8a8a22" stroke-width="0.6" />
<line x1="135.50" y1="174.50" x2="137.50" y2="174.50" stroke="#8a8a22" stroke-width="0.6" />
<line x1="135.50" y1="181.50" x2="137.50" y2="181.50" stroke="#8a8a22" stroke-width="0.6" />
<path d="M135.00,178.00 L136.50,176.50 L138.00,178.00 L136.50,179.50Z" fill="#8a8a22"/>
<line x1="144.40" y1="176.00" x2="144.40" y2="183.00" stroke="#8a8a22" stroke-width="0.6" />
<line x1="143.40" y1="176.00" x2="145.40" y2="176.00" stroke="#8a8a22" stroke-width="0.6" />
<line x1="143.40" y1="183.00" x2="145.40" y2="183.00" stroke="#8a8a22" stroke-width="0.6" />
<path d="M142.90,179.50 L144.40,178.00 L145.90,179.50 L144.40,181.00Z" fill="#8a8a22"/>
<path d="M43.50,166.70 L44.50,166.91 L45.50,167.13 L46.50,167.35 L47.50,167.58 L48.50,167.81 L49.50,168.05 L50.50,168.31 L51.50,168.57 L52.50,168.83 L53.50,169.11 L54.50,169.39 L55.50,169.69 L56.50,169.99 L57.50,170.31 L58.50,170.63 L59.50,170.96 L60.50,171.31 L61.50,171.66 L62.50,172.02 L63.50,172.40 L64.50,172.79 L65.50,173.19 L66.50,173.60 L67.50,174.02 L68.50,174.46 L69.50,174.91 L70.50,175.37 L71.50,175.85 L72.50,176.34 L73.50,176.84 L74.50,177.36 L75.50,177.90 L76.50,178.44 L77.50,179.01 L78.50,179.59 L79.50,180.18 L80.50,180.80 L81.50,181.42 L82.50,182.07 L83.50,182.73 L84.50,183.41 L85.50,184.11 L86.50,184.82 L87.50,185.56 L88.50,186.31 L89.50,187.08 L90.50,187.87 L91.50,188.68 L92.50,189.50 L93.50,190.35 L94.50,191.22 L95.50,192.10 L96.50,193.01 L97.50,193.93 L98.50,194.88 L99.50,195.84 L100.50,196.83 L101.50,197.83 L102.50,198.86 L103.50,199.91 L104.50,200.97 L105.50,202.06 L106.50,203.16 L107.50,204.29 L108.50,205.43 L109.50,206.59 L110.50,207.77 L111.50,208.98 L112.50,210.19 L113.50,211.43 L114.50,212.69 L115.50,213.96 L116.50,215.25 L117.50,216.55 L118.50,217.87 L119.50,219.21 L120.50,220.56 L121.50,221.93 L122.50,223.31 L123.50,224.70 L124.50,226.10 L125.50,227.52 L126.50,228.95 L127.50,230.39 L128.50,231.83 L129.50,233.29 L130.50,234.75 L131.50,236.22 L132.50,237.70 L133.50,239.18 L134.50,240.66 L135.50,242.15 L136.50,243.64 L137.50,245.14 L138.50,246.63 L139.50,248.12 L140.50,249.61 L141.50,251.10 L142.50,252.59 L143.50,254.08" fill="none" stroke="#2e3ea8" stroke-width="1.0"/>
<line x1="43.50" y1="163.50" x2="43.50" y2="169.50" stroke="#2e3ea8" stroke-width="0.6" />
<line x1="42.50" y1="163.50" x2="44.50" y2="163.50" stroke="#2e3ea8" stroke-width="0.6" />
<line x1="42.50" y1="169.50" x2="44.50" y2="169.50" stroke="#2e3ea8" stroke-width="0.6" />
<path d="M42.00,166.50 L43.50,165.00 L45.00,166.50 L43.50,168.00Z" fill="#2e3ea8"/>
<line x1="67.60" y1="170.80" x2="67.60" y2="176.80" stroke="#2e3ea8" stroke-width="0.6" />
<line x1="66.60" y1="170.80" x2="68.60" y2="170.80" stroke="#2e3ea8" stroke-width="0.6" />
<line x1="66.60" y1="176.80" x2="68.60" y2="176.80" stroke="#2e3ea8" stroke-width="0.6" />
<path d="M66.10,173.80 L67.60,172.30 L69.10,173.80 L67.60,175.30Z" fill="#2e3ea8"/>
<line x1="91.00" y1="187.00" x2="91.00" y2="193.00" stroke="#2e3ea8" stroke-width="0.6" />
<line x1="90.00" y1="187.00" x2="92.00" y2="187.00" stroke="#2e3ea8" stroke-width="0.6" />
<line x1="90.00" y1="193.00" x2="92.00" y2="193.00" stroke="#2e3ea8" stroke-width="0.6" />
<path d="M89.50,190.00 L91.00,188.50 L92.50,190.00 L91.00,191.50Z" fill="#2e3ea8"/>
<line x1="108.00" y1="201.00" x2="108.00" y2="207.00" stroke="#2e3ea8" stroke-width="0.6" />
<line x1="107.00" y1="201.00" x2="109.00" y2="201.00" stroke="#2e3ea8" stroke-width="0.6" />
<line x1="107.00" y1="207.00" x2="109.00" y2="207.00" stroke="#2e3ea8" stroke-width="0.6" />
<path d="M106.50,204.00 L108.00,202.50 L109.50,204.00 L108.00,205.50Z" fill="#2e3ea8"/>
<line x1="115.00" y1="209.00" x2="115.00" y2="215.00" stroke="#2e3ea8" stroke-width="0.6" />
<line x1="114.00" y1="209.00" x2="116.00" y2="209.00" stroke="#2e3ea8" stroke-width="0.6" />
<line x1="114.00" y1="215.00" x2="116.00" y2="215.00" stroke="#2e3ea8" stroke-width="0.6" />
<path d="M113.50,212.00 L115.00,210.50 L116.50,212.00 L115.00,213.50Z" fill="#2e3ea8"/>
<line x1="122.20" y1="219.00" x2="122.20" y2="225.00" stroke="#2e3ea8" stroke-width="0.6" />
<line x1="121.20" y1="219.00" x2="123.20" y2="219.00" stroke="#2e3ea8" stroke-width="0.6" />
<line x1="121.20" y1="225.00" x2="123.20" y2="225.00" stroke="#2e3ea8" stroke-width="0.6" />
<path d="M120.70,222.00 L122.20,220.50 L123.70,222.00 L122.20,223.50Z" fill="#2e3ea8"/>
<line x1="129.40" y1="232.00" x2="129.40" y2="238.00" stroke="#2e3ea8" stroke-width="0.6" />
<line x1="128.40" y1="232.00" x2="130.40" y2="232.00" stroke="#2e3ea8" stroke-width="0.6" />
<line x1="128.40" y1="238.00" x2="130.40" y2="238.00" stroke="#2e3ea8" stroke-width="0.6" />
<path d="M127.90,235.00 L129.40,233.50 L130.90,235.00 L129.40,236.50Z" fill="#2e3ea8"/>
<line x1="136.50" y1="241.50" x2="136.50" y2="247.50" stroke="#2e3ea8" stroke-width="0.6" />
<line x1="135.50" y1="241.50" x2="137.50" y2="241.50" stroke="#2e3ea8" stroke-width="0.6" />
<line x1="135.50" y1="247.50" x2="137.50" y2="247.50" stroke="#2e3ea8" stroke-width="0.6" />
<path d="M135.00,244.50 L136.50,243.00 L138.00,244.50 L136.50,246.00Z" fill="#2e3ea8"/>
<line x1="144.40" y1="251.50" x2="144.40" y2="257.50" stroke="#2e3ea8" stroke-width="0.6" />
<line x1="143.40" y1="251.50" x2="145.40" y2="251.50" stroke="#2e3ea8" stroke-width="0.6" />
<line x1="143.40" y1="257.50" x2="145.40" y2="257.50" stroke="#2e3ea8" stroke-width="0.6" />
<path d="M142.90,254.50 L144.40,253.00 L145.90,254.50 L144.40,256.00Z" fill="#2e3ea8"/>
<path d="M43.50,171.02 L44.50,171.03 L45.50,171.05 L46.50,171.06 L47.50,171.08 L48.50,171.09 L49.50,171.11 L50.50,171.13 L51.50,171.16 L52.50,171.18 L53.50,171.21 L54.50,171.24 L55.50,171.27 L56.50,171.31 L57.50,171.35 L58.50,171.39 L59.50,171.43 L60.50,171.48 L61.50,171.54 L62.50,171.60 L63.50,171.66 L64.50,171.73 L65.50,171.81 L66.50,171.90 L67.50,171.99 L68.50,172.09 L69.50,172.20 L70.50,172.31 L71.50,172.44 L72.50,172.58 L73.50,172.74 L74.50,172.90 L75.50,173.08 L76.50,173.28 L77.50,173.49 L78.50,173.73 L79.50,173.98 L80.50,174.25 L81.50,174.55 L82.50,174.87 L83.50,175.22 L84.50,175.60 L85.50,176.01 L86.50,176.45 L87.50,176.93 L88.50,177.44 L89.50,178.00 L90.50,178.60 L91.50,179.24 L92.50,179.93 L93.50,180.68 L94.50,181.48 L95.50,182.33 L96.50,183.24 L97.50,184.21 L98.50,185.25 L99.50,186.35 L100.50,187.52 L101.50,188.75 L102.50,190.06 L103.50,191.43 L104.50,192.88 L105.50,194.39 L106.50,195.97 L107.50,197.61 L108.50,199.32 L109.50,201.09 L110.50,202.92 L111.50,204.80 L112.50,206.72 L113.50,208.68 L114.50,210.68 L115.50,212.71 L116.50,214.75 L117.50,216.80 L118.50,218.86 L119.50,220.92 L120.50,222.96 L121.50,224.99 L122.50,226.98 L123.50,228.94 L124.50,230.87 L125.50,232.74 L126.50,234.57 L127.50,236.33 L128.50,238.04 L129.50,239.69 L130.50,241.26 L131.50,242.77 L132.50,244.22 L133.50,245.59 L134.50,246.89 L135.50,248.12 L136.50,249.29 L137.50,250.39 L138.50,251.42 L139.50,252.39 L140.50,253.30 L141.50,254.15 L142.50,254.95 L143.50,255.69" fill="none" stroke="#111" stroke-width="1.0"/>
<line x1="43.50" y1="168.00" x2="43.50" y2="174.00" stroke="#111" stroke-width="0.6" />
<line x1="42.50" y1="168.00" x2="44.50" y2="168.00" stroke="#111" stroke-width="0.6" />
<line x1="42.50" y1="174.00" x2="44.50" y2="174.00" stroke="#111" stroke-width="0.6" />
<path d="M42.00,171.00 L43.50,169.50 L45.00,171.00 L43.50,172.50Z" fill="#111"/>
<line x1="67.60" y1="169.00" x2="67.60" y2="175.00" stroke="#111" stroke-width="0.6" />
<line x1="66.60" y1="169.00" x2="68.60" y2="169.00" stroke="#111" stroke-width="0.6" />
<line x1="66.60" y1="175.00" x2="68.60" y2="175.00" stroke="#111" stroke-width="0.6" />
<path d="M66.10,172.00 L67.60,170.50 L69.10,172.00 L67.60,173.50Z" fill="#111"/>
<line x1="91.00" y1="176.50" x2="91.00" y2="182.50" stroke="#111" stroke-width="0.6" />
<line x1="90.00" y1="176.50" x2="92.00" y2="176.50" stroke="#111" stroke-width="0.6" />
<line x1="90.00" y1="182.50" x2="92.00" y2="182.50" stroke="#111" stroke-width="0.6" />
<path d="M89.50,179.50 L91.00,178.00 L92.50,179.50 L91.00,181.00Z" fill="#111"/>
<line x1="108.00" y1="193.00" x2="108.00" y2="199.00" stroke="#111" stroke-width="0.6" />
<line x1="107.00" y1="193.00" x2="109.00" y2="193.00" stroke="#111" stroke-width="0.6" />
<line x1="107.00" y1="199.00" x2="109.00" y2="199.00" stroke="#111" stroke-width="0.6" />
<path d="M106.50,196.00 L108.00,194.50 L109.50,196.00 L108.00,197.50Z" fill="#111"/>
<line x1="115.00" y1="211.00" x2="115.00" y2="217.00" stroke="#111" stroke-width="0.6" />
<line x1="114.00" y1="211.00" x2="116.00" y2="211.00" stroke="#111" stroke-width="0.6" />
<line x1="114.00" y1="217.00" x2="116.00" y2="217.00" stroke="#111" stroke-width="0.6" />
<path d="M113.50,214.00 L115.00,212.50 L116.50,214.00 L115.00,215.50Z" fill="#111"/>
<line x1="122.20" y1="224.00" x2="122.20" y2="230.00" stroke="#111" stroke-width="0.6" />
<line x1="121.20" y1="224.00" x2="123.20" y2="224.00" stroke="#111" stroke-width="0.6" />
<line x1="121.20" y1="230.00" x2="123.20" y2="230.00" stroke="#111" stroke-width="0.6" />
<path d="M120.70,227.00 L122.20,225.50 L123.70,227.00 L122.20,228.50Z" fill="#111"/>
<line x1="129.40" y1="235.70" x2="129.40" y2="241.70" stroke="#111" stroke-width="0.6" />
<line x1="128.40" y1="235.70" x2="130.40" y2="235.70" stroke="#111" stroke-width="0.6" />
<line x1="128.40" y1="241.70" x2="130.40" y2="241.70" stroke="#111" stroke-width="0.6" />
<path d="M127.90,238.70 L129.40,237.20 L130.90,238.70 L129.40,240.20Z" fill="#111"/>
<line x1="136.50" y1="245.00" x2="136.50" y2="251.00" stroke="#111" stroke-width="0.6" />
<line x1="135.50" y1="245.00" x2="137.50" y2="245.00" stroke="#111" stroke-width="0.6" />
<line x1="135.50" y1="251.00" x2="137.50" y2="251.00" stroke="#111" stroke-width="0.6" />
<path d="M135.00,248.00 L136.50,246.50 L138.00,248.00 L136.50,249.50Z" fill="#111"/>
<line x1="144.40" y1="254.40" x2="144.40" y2="260.40" stroke="#111" stroke-width="0.6" />
<line x1="143.40" y1="254.40" x2="145.40" y2="254.40" stroke="#111" stroke-width="0.6" />
<line x1="143.40" y1="260.40" x2="145.40" y2="260.40" stroke="#111" stroke-width="0.6" />
<path d="M142.90,257.40 L144.40,255.90 L145.90,257.40 L144.40,258.90Z" fill="#111"/>
<path d="M43.50,171.66 L44.50,171.66 L45.50,171.66 L46.50,171.66 L47.50,171.66 L48.50,171.66 L49.50,171.66 L50.50,171.67 L51.50,171.67 L52.50,171.67 L53.50,171.67 L54.50,171.68 L55.50,171.68 L56.50,171.68 L57.50,171.69 L58.50,171.69 L59.50,171.70 L60.50,171.71 L61.50,171.71 L62.50,171.72 L63.50,171.73 L64.50,171.74 L65.50,171.75 L66.50,171.77 L67.50,171.78 L68.50,171.80 L69.50,171.82 L70.50,171.84 L71.50,171.86 L72.50,171.89 L73.50,171.92 L74.50,171.96 L75.50,172.00 L76.50,172.04 L77.50,172.09 L78.50,172.15 L79.50,172.22 L80.50,172.29 L81.50,172.37 L82.50,172.46 L83.50,172.57 L84.50,172.68 L85.50,172.82 L86.50,172.97 L87.50,173.13 L88.50,173.32 L89.50,173.53 L90.50,173.77 L91.50,174.04 L92.50,174.33 L93.50,174.67 L94.50,175.04 L95.50,175.46 L96.50,175.93 L97.50,176.45 L98.50,177.04 L99.50,177.69 L100.50,178.41 L101.50,179.21 L102.50,180.09 L103.50,181.06 L104.50,182.14 L105.50,183.31 L106.50,184.60 L107.50,186.00 L108.50,187.53 L109.50,189.18 L110.50,190.95 L111.50,192.85 L112.50,194.88 L113.50,197.03 L114.50,199.30 L115.50,201.67 L116.50,204.14 L117.50,206.70 L118.50,209.32 L119.50,211.99 L120.50,214.70 L121.50,217.42 L122.50,220.13 L123.50,222.82 L124.50,225.46 L125.50,228.04 L126.50,230.54 L127.50,232.95 L128.50,235.25 L129.50,237.44 L130.50,239.50 L131.50,241.45 L132.50,243.26 L133.50,244.95 L134.50,246.52 L135.50,247.96 L136.50,249.29 L137.50,250.50 L138.50,251.60 L139.50,252.61 L140.50,253.52 L141.50,254.35 L142.50,255.09 L143.50,255.76" fill="none" stroke="#a01818" stroke-width="1.0"/>
<line x1="43.50" y1="168.00" x2="43.50" y2="174.00" stroke="#a01818" stroke-width="0.6" />
<line x1="42.50" y1="168.00" x2="44.50" y2="168.00" stroke="#a01818" stroke-width="0.6" />
<line x1="42.50" y1="174.00" x2="44.50" y2="174.00" stroke="#a01818" stroke-width="0.6" />
<path d="M42.10,172.10 L44.90,172.10 L43.50,169.60Z" fill="#a01818"/>
<line x1="67.60" y1="169.00" x2="67.60" y2="175.00" stroke="#a01818" stroke-width="0.6" />
<line x1="66.60" y1="169.00" x2="68.60" y2="169.00" stroke="#a01818" stroke-width="0.6" />
<line x1="66.60" y1="175.00" x2="68.60" y2="175.00" stroke="#a01818" stroke-width="0.6" />
<path d="M66.20,173.10 L69.00,173.10 L67.60,170.60Z" fill="#a01818"/>
<line x1="91.00" y1="172.00" x2="91.00" y2="178.00" stroke="#a01818" stroke-width="0.6" />
<line x1="90.00" y1="172.00" x2="92.00" y2="172.00" stroke="#a01818" stroke-width="0.6" />
<line x1="90.00" y1="178.00" x2="92.00" y2="178.00" stroke="#a01818" stroke-width="0.6" />
<path d="M89.60,176.10 L92.40,176.10 L91.00,173.60Z" fill="#a01818"/>
<line x1="108.00" y1="182.00" x2="108.00" y2="188.00" stroke="#a01818" stroke-width="0.6" />
<line x1="107.00" y1="182.00" x2="109.00" y2="182.00" stroke="#a01818" stroke-width="0.6" />
<line x1="107.00" y1="188.00" x2="109.00" y2="188.00" stroke="#a01818" stroke-width="0.6" />
<path d="M106.60,186.10 L109.40,186.10 L108.00,183.60Z" fill="#a01818"/>
<line x1="115.00" y1="199.00" x2="115.00" y2="205.00" stroke="#a01818" stroke-width="0.6" />
<line x1="114.00" y1="199.00" x2="116.00" y2="199.00" stroke="#a01818" stroke-width="0.6" />
<line x1="114.00" y1="205.00" x2="116.00" y2="205.00" stroke="#a01818" stroke-width="0.6" />
<path d="M113.60,203.10 L116.40,203.10 L115.00,200.60Z" fill="#a01818"/>
<line x1="122.20" y1="215.70" x2="122.20" y2="221.70" stroke="#a01818" stroke-width="0.6" />
<line x1="121.20" y1="215.70" x2="123.20" y2="215.70" stroke="#a01818" stroke-width="0.6" />
<line x1="121.20" y1="221.70" x2="123.20" y2="221.70" stroke="#a01818" stroke-width="0.6" />
<path d="M120.80,219.80 L123.60,219.80 L122.20,217.30Z" fill="#a01818"/>
<line x1="129.40" y1="235.00" x2="129.40" y2="241.00" stroke="#a01818" stroke-width="0.6" />
<line x1="128.40" y1="235.00" x2="130.40" y2="235.00" stroke="#a01818" stroke-width="0.6" />
<line x1="128.40" y1="241.00" x2="130.40" y2="241.00" stroke="#a01818" stroke-width="0.6" />
<path d="M128.00,239.10 L130.80,239.10 L129.40,236.60Z" fill="#a01818"/>
<line x1="136.50" y1="245.00" x2="136.50" y2="251.00" stroke="#a01818" stroke-width="0.6" />
<line x1="135.50" y1="245.00" x2="137.50" y2="245.00" stroke="#a01818" stroke-width="0.6" />
<line x1="135.50" y1="251.00" x2="137.50" y2="251.00" stroke="#a01818" stroke-width="0.6" />
<path d="M135.10,249.10 L137.90,249.10 L136.50,246.60Z" fill="#a01818"/>
<line x1="144.40" y1="254.00" x2="144.40" y2="260.00" stroke="#a01818" stroke-width="0.6" />
<line x1="143.40" y1="254.00" x2="145.40" y2="254.00" stroke="#a01818" stroke-width="0.6" />
<line x1="143.40" y1="260.00" x2="145.40" y2="260.00" stroke="#a01818" stroke-width="0.6" />
<path d="M143.00,258.10 L145.80,258.10 L144.40,255.60Z" fill="#a01818"/>
<path d="M43.50,168.87 L44.50,168.87 L45.50,168.87 L46.50,168.87 L47.50,168.88 L48.50,168.88 L49.50,168.88 L50.50,168.88 L51.50,168.89 L52.50,168.89 L53.50,168.90 L54.50,168.90 L55.50,168.91 L56.50,168.91 L57.50,168.92 L58.50,168.92 L59.50,168.93 L60.50,168.94 L61.50,168.95 L62.50,168.96 L63.50,168.98 L64.50,168.99 L65.50,169.00 L66.50,169.02 L67.50,169.04 L68.50,169.06 L69.50,169.09 L70.50,169.11 L71.50,169.14 L72.50,169.18 L73.50,169.22 L74.50,169.26 L75.50,169.30 L76.50,169.36 L77.50,169.41 L78.50,169.48 L79.50,169.55 L80.50,169.63 L81.50,169.72 L82.50,169.82 L83.50,169.93 L84.50,170.05 L85.50,170.19 L86.50,170.35 L87.50,170.52 L88.50,170.71 L89.50,170.92 L90.50,171.15 L91.50,171.41 L92.50,171.70 L93.50,172.03 L94.50,172.38 L95.50,172.78 L96.50,173.21 L97.50,173.70 L98.50,174.23 L99.50,174.82 L100.50,175.47 L101.50,176.19 L102.50,176.97 L103.50,177.83 L104.50,178.78 L105.50,179.81 L106.50,180.93 L107.50,182.16 L108.50,183.48 L109.50,184.92 L110.50,186.47 L111.50,188.13 L112.50,189.91 L113.50,191.81 L114.50,193.83 L115.50,195.97 L116.50,198.22 L117.50,200.57 L118.50,203.03 L119.50,205.58 L120.50,208.21 L121.50,210.90 L122.50,213.65 L123.50,216.43 L124.50,219.24 L125.50,222.04 L126.50,224.84 L127.50,227.61 L128.50,230.32 L129.50,232.98 L130.50,235.57 L131.50,238.07 L132.50,240.47 L133.50,242.77 L134.50,244.95 L135.50,247.03 L136.50,248.98 L137.50,250.81 L138.50,252.53 L139.50,254.13 L140.50,255.61 L141.50,256.99 L142.50,258.26 L143.50,259.43" fill="none" stroke="#148a3a" stroke-width="1.0"/>
<line x1="43.50" y1="166.50" x2="43.50" y2="172.50" stroke="#148a3a" stroke-width="0.6" />
<line x1="42.50" y1="166.50" x2="44.50" y2="166.50" stroke="#148a3a" stroke-width="0.6" />
<line x1="42.50" y1="172.50" x2="44.50" y2="172.50" stroke="#148a3a" stroke-width="0.6" />
<path d="M42.10,170.60 L44.90,170.60 L43.50,168.10Z" fill="#148a3a"/>
<line x1="67.60" y1="166.50" x2="67.60" y2="172.50" stroke="#148a3a" stroke-width="0.6" />
<line x1="66.60" y1="166.50" x2="68.60" y2="166.50" stroke="#148a3a" stroke-width="0.6" />
<line x1="66.60" y1="172.50" x2="68.60" y2="172.50" stroke="#148a3a" stroke-width="0.6" />
<path d="M66.20,170.60 L69.00,170.60 L67.60,168.10Z" fill="#148a3a"/>
<line x1="91.00" y1="167.50" x2="91.00" y2="173.50" stroke="#148a3a" stroke-width="0.6" />
<line x1="90.00" y1="167.50" x2="92.00" y2="167.50" stroke="#148a3a" stroke-width="0.6" />
<line x1="90.00" y1="173.50" x2="92.00" y2="173.50" stroke="#148a3a" stroke-width="0.6" />
<path d="M89.60,171.60 L92.40,171.60 L91.00,169.10Z" fill="#148a3a"/>
<line x1="108.00" y1="178.00" x2="108.00" y2="184.00" stroke="#148a3a" stroke-width="0.6" />
<line x1="107.00" y1="178.00" x2="109.00" y2="178.00" stroke="#148a3a" stroke-width="0.6" />
<line x1="107.00" y1="184.00" x2="109.00" y2="184.00" stroke="#148a3a" stroke-width="0.6" />
<path d="M106.60,182.10 L109.40,182.10 L108.00,179.60Z" fill="#148a3a"/>
<line x1="115.00" y1="194.00" x2="115.00" y2="200.00" stroke="#148a3a" stroke-width="0.6" />
<line x1="114.00" y1="194.00" x2="116.00" y2="194.00" stroke="#148a3a" stroke-width="0.6" />
<line x1="114.00" y1="200.00" x2="116.00" y2="200.00" stroke="#148a3a" stroke-width="0.6" />
<path d="M113.60,198.10 L116.40,198.10 L115.00,195.60Z" fill="#148a3a"/>
<line x1="122.20" y1="209.30" x2="122.20" y2="215.30" stroke="#148a3a" stroke-width="0.6" />
<line x1="121.20" y1="209.30" x2="123.20" y2="209.30" stroke="#148a3a" stroke-width="0.6" />
<line x1="121.20" y1="215.30" x2="123.20" y2="215.30" stroke="#148a3a" stroke-width="0.6" />
<path d="M120.80,213.40 L123.60,213.40 L122.20,210.90Z" fill="#148a3a"/>
<line x1="129.40" y1="230.00" x2="129.40" y2="236.00" stroke="#148a3a" stroke-width="0.6" />
<line x1="128.40" y1="230.00" x2="130.40" y2="230.00" stroke="#148a3a" stroke-width="0.6" />
<line x1="128.40" y1="236.00" x2="130.40" y2="236.00" stroke="#148a3a" stroke-width="0.6" />
<path d="M128.00,234.10 L130.80,234.10 L129.40,231.60Z" fill="#148a3a"/>
<line x1="136.50" y1="245.00" x2="136.50" y2="251.00" stroke="#148a3a" stroke-width="0.6" />
<line x1="135.50" y1="245.00" x2="137.50" y2="245.00" stroke="#148a3a" stroke-width="0.6" />
<line x1="135.50" y1="251.00" x2="137.50" y2="251.00" stroke="#148a3a" stroke-width="0.6" />
<path d="M135.10,249.10 L137.90,249.10 L136.50,246.60Z" fill="#148a3a"/>
<line x1="144.40" y1="258.00" x2="144.40" y2="264.00" stroke="#148a3a" stroke-width="0.6" />
<line x1="143.40" y1="258.00" x2="145.40" y2="258.00" stroke="#148a3a" stroke-width="0.6" />
<line x1="143.40" y1="264.00" x2="145.40" y2="264.00" stroke="#148a3a" stroke-width="0.6" />
<path d="M143.00,262.10 L145.80,262.10 L144.40,259.60Z" fill="#148a3a"/>
<path d="M43.50,170.48 L44.50,170.50 L45.50,170.52 L46.50,170.54 L47.50,170.57 L48.50,170.59 L49.50,170.62 L50.50,170.65 L51.50,170.68 L52.50,170.72 L53.50,170.75 L54.50,170.79 L55.50,170.83 L56.50,170.87 L57.50,170.92 L58.50,170.97 L59.50,171.02 L60.50,171.08 L61.50,171.14 L62.50,171.20 L63.50,171.27 L64.50,171.34 L65.50,171.41 L66.50,171.50 L67.50,171.58 L68.50,171.68 L69.50,171.77 L70.50,171.88 L71.50,171.99 L72.50,172.11 L73.50,172.24 L74.50,172.37 L75.50,172.52 L76.50,172.67 L77.50,172.83 L78.50,173.01 L79.50,173.19 L80.50,173.39 L81.50,173.60 L82.50,173.82 L83.50,174.06 L84.50,174.31 L85.50,174.57 L86.50,174.86 L87.50,175.16 L88.50,175.48 L89.50,175.82 L90.50,176.18 L91.50,176.56 L92.50,176.97 L93.50,177.40 L94.50,177.86 L95.50,178.34 L96.50,178.85 L97.50,179.39 L98.50,179.96 L99.50,180.57 L100.50,181.21 L101.50,181.89 L102.50,182.60 L103.50,183.35 L104.50,184.15 L105.50,184.98 L106.50,185.86 L107.50,186.79 L108.50,187.76 L109.50,188.78 L110.50,189.85 L111.50,190.97 L112.50,192.15 L113.50,193.38 L114.50,194.66 L115.50,196.00 L116.50,197.40 L117.50,198.85 L118.50,200.36 L119.50,201.92 L120.50,203.55 L121.50,205.23 L122.50,206.97 L123.50,208.76 L124.50,210.60 L125.50,212.50 L126.50,214.45 L127.50,216.45 L128.50,218.49 L129.50,220.58 L130.50,222.71 L131.50,224.87 L132.50,227.07 L133.50,229.29 L134.50,231.54 L135.50,233.81 L136.50,236.10 L137.50,238.39 L138.50,240.70 L139.50,243.00 L140.50,245.30 L141.50,247.60 L142.50,249.88 L143.50,252.14" fill="none" stroke="#e52020" stroke-width="1.0"/>
<line x1="43.50" y1="165.00" x2="43.50" y2="171.00" stroke="#e52020" stroke-width="0.6" />
<line x1="42.50" y1="165.00" x2="44.50" y2="165.00" stroke="#e52020" stroke-width="0.6" />
<line x1="42.50" y1="171.00" x2="44.50" y2="171.00" stroke="#e52020" stroke-width="0.6" />
<rect x="42.10" y="166.60" width="2.80" height="2.80" fill="#e52020" />
<line x1="67.60" y1="170.60" x2="67.60" y2="176.60" stroke="#e52020" stroke-width="0.6" />
<line x1="66.60" y1="170.60" x2="68.60" y2="170.60" stroke="#e52020" stroke-width="0.6" />
<line x1="66.60" y1="176.60" x2="68.60" y2="176.60" stroke="#e52020" stroke-width="0.6" />
<rect x="66.20" y="172.20" width="2.80" height="2.80" fill="#e52020" />
<line x1="91.00" y1="175.00" x2="91.00" y2="181.00" stroke="#e52020" stroke-width="0.6" />
<line x1="90.00" y1="175.00" x2="92.00" y2="175.00" stroke="#e52020" stroke-width="0.6" />
<line x1="90.00" y1="181.00" x2="92.00" y2="181.00" stroke="#e52020" stroke-width="0.6" />
<rect x="89.60" y="176.60" width="2.80" height="2.80" fill="#e52020" />
<line x1="108.00" y1="183.50" x2="108.00" y2="189.50" stroke="#e52020" stroke-width="0.6" />
<line x1="107.00" y1="183.50" x2="109.00" y2="183.50" stroke="#e52020" stroke-width="0.6" />
<line x1="107.00" y1="189.50" x2="109.00" y2="189.50" stroke="#e52020" stroke-width="0.6" />
<rect x="106.60" y="185.10" width="2.80" height="2.80" fill="#e52020" />
<line x1="115.00" y1="191.30" x2="115.00" y2="197.30" stroke="#e52020" stroke-width="0.6" />
<line x1="114.00" y1="191.30" x2="116.00" y2="191.30" stroke="#e52020" stroke-width="0.6" />
<line x1="114.00" y1="197.30" x2="116.00" y2="197.30" stroke="#e52020" stroke-width="0.6" />
<rect x="113.60" y="192.90" width="2.80" height="2.80" fill="#e52020" />
<line x1="122.20" y1="203.50" x2="122.20" y2="209.50" stroke="#e52020" stroke-width="0.6" />
<line x1="121.20" y1="203.50" x2="123.20" y2="203.50" stroke="#e52020" stroke-width="0.6" />
<line x1="121.20" y1="209.50" x2="123.20" y2="209.50" stroke="#e52020" stroke-width="0.6" />
<rect x="120.80" y="205.10" width="2.80" height="2.80" fill="#e52020" />
<line x1="129.40" y1="217.80" x2="129.40" y2="223.80" stroke="#e52020" stroke-width="0.6" />
<line x1="128.40" y1="217.80" x2="130.40" y2="217.80" stroke="#e52020" stroke-width="0.6" />
<line x1="128.40" y1="223.80" x2="130.40" y2="223.80" stroke="#e52020" stroke-width="0.6" />
<rect x="128.00" y="219.40" width="2.80" height="2.80" fill="#e52020" />
<line x1="136.50" y1="233.60" x2="136.50" y2="239.60" stroke="#e52020" stroke-width="0.6" />
<line x1="135.50" y1="233.60" x2="137.50" y2="233.60" stroke="#e52020" stroke-width="0.6" />
<line x1="135.50" y1="239.60" x2="137.50" y2="239.60" stroke="#e52020" stroke-width="0.6" />
<rect x="135.10" y="235.20" width="2.80" height="2.80" fill="#e52020" />
<line x1="144.40" y1="250.80" x2="144.40" y2="256.80" stroke="#e52020" stroke-width="0.6" />
<line x1="143.40" y1="250.80" x2="145.40" y2="250.80" stroke="#e52020" stroke-width="0.6" />
<line x1="143.40" y1="256.80" x2="145.40" y2="256.80" stroke="#e52020" stroke-width="0.6" />
<rect x="143.00" y="252.40" width="2.80" height="2.80" fill="#e52020" />
<line x1="168.10" y1="155.80" x2="174.90" y2="155.80" stroke="#a01818" stroke-width="0.9" />
<path d="M170.10,156.80 L172.90,156.80 L171.50,154.50Z" fill="#a01818"/>
<text x="177.30" y="157.90" font-size="5.9" fill="#333" >HCT116</text>
<line x1="168.10" y1="162.73" x2="174.90" y2="162.73" stroke="#148a3a" stroke-width="0.9" />
<path d="M170.10,163.73 L172.90,163.73 L171.50,161.43Z" fill="#148a3a"/>
<text x="177.30" y="164.83" font-size="5.9" fill="#333" >SW480</text>
<line x1="168.10" y1="169.66" x2="174.90" y2="169.66" stroke="#111" stroke-width="0.9" />
<path d="M170.10,170.66 L172.90,170.66 L171.50,168.36Z" fill="#111"/>
<text x="177.30" y="171.76" font-size="5.9" fill="#333" >HT29</text>
<line x1="168.10" y1="176.59" x2="174.90" y2="176.59" stroke="#e52020" stroke-width="0.9" />
<rect x="169.90" y="175.19" width="3.2" height="2.8" fill="#e52020"/>
<text x="177.30" y="178.69" font-size="5.9" fill="#333" >SW48</text>
<line x1="168.10" y1="183.52" x2="174.90" y2="183.52" stroke="#2e3ea8" stroke-width="0.9" />
<path d="M170.10,184.52 L172.90,184.52 L171.50,182.22Z" fill="#2e3ea8"/>
<text x="177.30" y="185.62" font-size="5.9" fill="#333" >DLD1</text>
<line x1="168.10" y1="190.45" x2="174.90" y2="190.45" stroke="#c07428" stroke-width="0.9" />
<path d="M170.10,191.45 L172.90,191.45 L171.50,189.15Z" fill="#c07428"/>
<text x="177.30" y="192.55" font-size="5.9" fill="#333" >FHC</text>
<line x1="168.10" y1="197.38" x2="174.90" y2="197.38" stroke="#8a8a22" stroke-width="0.9" />
<path d="M170.10,198.38 L172.90,198.38 L171.50,196.08Z" fill="#8a8a22"/>
<text x="177.30" y="199.48" font-size="5.9" fill="#333" >CCD-18Co</text>
<line x1="256.50" y1="152.30" x2="256.50" y2="262.00" stroke="#777" stroke-width="1" />
<line x1="254.50" y1="262.00" x2="256.50" y2="262.00" stroke="#777" stroke-width="0.8" />
<text x="253.60" y="264.40" font-size="8.5" text-anchor="end" fill="#222" textLength="4.70" lengthAdjust="spacingAndGlyphs" >0</text>
<line x1="254.50" y1="243.80" x2="256.50" y2="243.80" stroke="#777" stroke-width="0.8" />
<text x="253.60" y="246.20" font-size="8.5" text-anchor="end" fill="#222" textLength="9.40" lengthAdjust="spacingAndGlyphs" >20</text>
<line x1="254.50" y1="225.60" x2="256.50" y2="225.60" stroke="#777" stroke-width="0.8" />
<text x="253.60" y="228.00" font-size="8.5" text-anchor="end" fill="#222" textLength="9.40" lengthAdjust="spacingAndGlyphs" >40</text>
<line x1="254.50" y1="207.40" x2="256.50" y2="207.40" stroke="#777" stroke-width="0.8" />
<text x="253.60" y="209.80" font-size="8.5" text-anchor="end" fill="#222" textLength="9.40" lengthAdjust="spacingAndGlyphs" >60</text>
<line x1="254.50" y1="189.20" x2="256.50" y2="189.20" stroke="#777" stroke-width="0.8" />
<text x="253.60" y="191.60" font-size="8.5" text-anchor="end" fill="#222" textLength="9.40" lengthAdjust="spacingAndGlyphs" >80</text>
<line x1="254.50" y1="171.00" x2="256.50" y2="171.00" stroke="#777" stroke-width="0.8" />
<text x="253.60" y="173.40" font-size="8.5" text-anchor="end" fill="#222" textLength="14.10" lengthAdjust="spacingAndGlyphs" >100</text>
<line x1="254.50" y1="152.80" x2="256.50" y2="152.80" stroke="#777" stroke-width="0.8" />
<text x="253.60" y="155.20" font-size="8.5" text-anchor="end" fill="#222" textLength="14.10" lengthAdjust="spacingAndGlyphs" >120</text>
<line x1="256.50" y1="262.00" x2="376.90" y2="262.00" stroke="#999" stroke-width="1.3" />
<line x1="256.80" y1="260.80" x2="256.80" y2="262.00" stroke="#555" stroke-width="0.8" />
<text x="257.10" y="274.80" font-size="8.5" text-anchor="middle" fill="#222" textLength="9.40" lengthAdjust="spacingAndGlyphs" >10</text>
<text x="262.30" y="268.80" font-size="5.6" fill="#222" >-4</text>
<line x1="276.68" y1="260.80" x2="276.68" y2="262.00" stroke="#555" stroke-width="0.8" />
<text x="276.98" y="274.80" font-size="8.5" text-anchor="middle" fill="#222" textLength="9.40" lengthAdjust="spacingAndGlyphs" >10</text>
<text x="282.18" y="268.80" font-size="5.6" fill="#222" >-3</text>
<line x1="296.56" y1="260.80" x2="296.56" y2="262.00" stroke="#555" stroke-width="0.8" />
<text x="296.86" y="274.80" font-size="8.5" text-anchor="middle" fill="#222" textLength="9.40" lengthAdjust="spacingAndGlyphs" >10</text>
<text x="302.06" y="268.80" font-size="5.6" fill="#222" >-2</text>
<line x1="316.44" y1="260.80" x2="316.44" y2="262.00" stroke="#555" stroke-width="0.8" />
<text x="316.74" y="274.80" font-size="8.5" text-anchor="middle" fill="#222" textLength="9.40" lengthAdjust="spacingAndGlyphs" >10</text>
<text x="321.94" y="268.80" font-size="5.6" fill="#222" >-1</text>
<line x1="336.32" y1="260.80" x2="336.32" y2="262.00" stroke="#555" stroke-width="0.8" />
<text x="336.62" y="274.80" font-size="8.5" text-anchor="middle" fill="#222" textLength="9.40" lengthAdjust="spacingAndGlyphs" >10</text>
<text x="341.82" y="268.80" font-size="5.6" fill="#222" >0</text>
<line x1="356.20" y1="260.80" x2="356.20" y2="262.00" stroke="#555" stroke-width="0.8" />
<text x="356.50" y="274.80" font-size="8.5" text-anchor="middle" fill="#222" textLength="9.40" lengthAdjust="spacingAndGlyphs" >10</text>
<text x="361.70" y="268.80" font-size="5.6" fill="#222" >1</text>
<line x1="376.08" y1="260.80" x2="376.08" y2="262.00" stroke="#555" stroke-width="0.8" />
<text x="376.38" y="274.80" font-size="8.5" text-anchor="middle" fill="#222" textLength="9.40" lengthAdjust="spacingAndGlyphs" >10</text>
<text x="381.58" y="268.80" font-size="5.6" fill="#222" >2</text>
<text x="388.40" y="274.30" font-size="8.0" fill="#333" textLength="17.00" lengthAdjust="spacingAndGlyphs" >(&#956;M)</text>
<text x="320.00" y="286.20" font-size="8.8" text-anchor="middle" font-weight="bold" >TAZ</text>
<path d="M256.50,167.98 L257.50,168.05 L258.50,168.12 L259.50,168.20 L260.50,168.27 L261.50,168.34 L262.50,168.42 L263.50,168.49 L264.50,168.57 L265.50,168.64 L266.50,168.72 L267.50,168.80 L268.50,168.87 L269.50,168.95 L270.50,169.03 L271.50,169.10 L272.50,169.18 L273.50,169.26 L274.50,169.34 L275.50,169.42 L276.50,169.49 L277.50,169.57 L278.50,169.65 L279.50,169.73 L280.50,169.81 L281.50,169.89 L282.50,169.97 L283.50,170.05 L284.50,170.14 L285.50,170.22 L286.50,170.30 L287.50,170.38 L288.50,170.46 L289.50,170.55 L290.50,170.63 L291.50,170.71 L292.50,170.80 L293.50,170.88 L294.50,170.96 L295.50,171.05 L296.50,171.13 L297.50,171.22 L298.50,171.30 L299.50,171.39 L300.50,171.47 L301.50,171.56 L302.50,171.64 L303.50,171.73 L304.50,171.82 L305.50,171.91 L306.50,171.99 L307.50,172.08 L308.50,172.17 L309.50,172.26 L310.50,172.34 L311.50,172.43 L312.50,172.52 L313.50,172.61 L314.50,172.70 L315.50,172.79 L316.50,172.88 L317.50,172.97 L318.50,173.06 L319.50,173.15 L320.50,173.24 L321.50,173.33 L322.50,173.42 L323.50,173.51 L324.50,173.61 L325.50,173.70 L326.50,173.79 L327.50,173.88 L328.50,173.97 L329.50,174.07 L330.50,174.16 L331.50,174.25 L332.50,174.35 L333.50,174.44 L334.50,174.53 L335.50,174.63 L336.50,174.72 L337.50,174.82 L338.50,174.91 L339.50,175.01 L340.50,175.10 L341.50,175.20 L342.50,175.29 L343.50,175.39 L344.50,175.48 L345.50,175.58 L346.50,175.67 L347.50,175.77 L348.50,175.87 L349.50,175.96 L350.50,176.06 L351.50,176.16 L352.50,176.25 L353.50,176.35 L354.50,176.45 L355.50,176.54 L356.50,176.64 L357.50,176.74 L358.50,176.84 L359.50,176.94 L360.50,177.03 L361.50,177.13 L362.50,177.23 L363.50,177.33 L364.50,177.43 L365.50,177.52 L366.50,177.62 L367.50,177.72" fill="none" stroke="#c07428" stroke-width="1.0"/>
<line x1="256.50" y1="164.50" x2="256.50" y2="171.50" stroke="#c07428" stroke-width="0.6" />
<line x1="255.50" y1="164.50" x2="257.50" y2="164.50" stroke="#c07428" stroke-width="0.6" />
<line x1="255.50" y1="171.50" x2="257.50" y2="171.50" stroke="#c07428" stroke-width="0.6" />
<path d="M255.10,169.10 L257.90,169.10 L256.50,166.60Z" fill="#c07428"/>
<line x1="276.50" y1="166.00" x2="276.50" y2="173.00" stroke="#c07428" stroke-width="0.6" />
<line x1="275.50" y1="166.00" x2="277.50" y2="166.00" stroke="#c07428" stroke-width="0.6" />
<line x1="275.50" y1="173.00" x2="277.50" y2="173.00" stroke="#c07428" stroke-width="0.6" />
<path d="M275.10,170.60 L277.90,170.60 L276.50,168.10Z" fill="#c07428"/>
<line x1="296.80" y1="167.50" x2="296.80" y2="174.50" stroke="#c07428" stroke-width="0.6" />
<line x1="295.80" y1="167.50" x2="297.80" y2="167.50" stroke="#c07428" stroke-width="0.6" />
<line x1="295.80" y1="174.50" x2="297.80" y2="174.50" stroke="#c07428" stroke-width="0.6" />
<path d="M295.40,172.10 L298.20,172.10 L296.80,169.60Z" fill="#c07428"/>
<line x1="316.20" y1="169.50" x2="316.20" y2="176.50" stroke="#c07428" stroke-width="0.6" />
<line x1="315.20" y1="169.50" x2="317.20" y2="169.50" stroke="#c07428" stroke-width="0.6" />
<line x1="315.20" y1="176.50" x2="317.20" y2="176.50" stroke="#c07428" stroke-width="0.6" />
<path d="M314.80,174.10 L317.60,174.10 L316.20,171.60Z" fill="#c07428"/>
<line x1="336.20" y1="171.30" x2="336.20" y2="178.30" stroke="#c07428" stroke-width="0.6" />
<line x1="335.20" y1="171.30" x2="337.20" y2="171.30" stroke="#c07428" stroke-width="0.6" />
<line x1="335.20" y1="178.30" x2="337.20" y2="178.30" stroke="#c07428" stroke-width="0.6" />
<path d="M334.80,175.90 L337.60,175.90 L336.20,173.40Z" fill="#c07428"/>
<line x1="350.00" y1="172.50" x2="350.00" y2="179.50" stroke="#c07428" stroke-width="0.6" />
<line x1="349.00" y1="172.50" x2="351.00" y2="172.50" stroke="#c07428" stroke-width="0.6" />
<line x1="349.00" y1="179.50" x2="351.00" y2="179.50" stroke="#c07428" stroke-width="0.6" />
<path d="M348.60,177.10 L351.40,177.10 L350.00,174.60Z" fill="#c07428"/>
<line x1="356.40" y1="173.00" x2="356.40" y2="180.00" stroke="#c07428" stroke-width="0.6" />
<line x1="355.40" y1="173.00" x2="357.40" y2="173.00" stroke="#c07428" stroke-width="0.6" />
<line x1="355.40" y1="180.00" x2="357.40" y2="180.00" stroke="#c07428" stroke-width="0.6" />
<path d="M355.00,177.60 L357.80,177.60 L356.40,175.10Z" fill="#c07428"/>
<line x1="362.00" y1="173.50" x2="362.00" y2="180.50" stroke="#c07428" stroke-width="0.6" />
<line x1="361.00" y1="173.50" x2="363.00" y2="173.50" stroke="#c07428" stroke-width="0.6" />
<line x1="361.00" y1="180.50" x2="363.00" y2="180.50" stroke="#c07428" stroke-width="0.6" />
<path d="M360.60,178.10 L363.40,178.10 L362.00,175.60Z" fill="#c07428"/>
<line x1="368.30" y1="174.50" x2="368.30" y2="181.50" stroke="#c07428" stroke-width="0.6" />
<line x1="367.30" y1="174.50" x2="369.30" y2="174.50" stroke="#c07428" stroke-width="0.6" />
<line x1="367.30" y1="181.50" x2="369.30" y2="181.50" stroke="#c07428" stroke-width="0.6" />
<path d="M366.90,179.10 L369.70,179.10 L368.30,176.60Z" fill="#c07428"/>
<path d="M256.50,167.73 L257.50,167.78 L258.50,167.84 L259.50,167.89 L260.50,167.95 L261.50,168.01 L262.50,168.06 L263.50,168.12 L264.50,168.18 L265.50,168.24 L266.50,168.30 L267.50,168.36 L268.50,168.42 L269.50,168.48 L270.50,168.54 L271.50,168.60 L272.50,168.67 L273.50,168.73 L274.50,168.79 L275.50,168.86 L276.50,168.92 L277.50,168.99 L278.50,169.05 L279.50,169.12 L280.50,169.19 L281.50,169.25 L282.50,169.32 L283.50,169.39 L284.50,169.46 L285.50,169.53 L286.50,169.60 L287.50,169.67 L288.50,169.74 L289.50,169.81 L290.50,169.89 L291.50,169.96 L292.50,170.03 L293.50,170.11 L294.50,170.18 L295.50,170.26 L296.50,170.34 L297.50,170.41 L298.50,170.49 L299.50,170.57 L300.50,170.65 L301.50,170.73 L302.50,170.81 L303.50,170.89 L304.50,170.97 L305.50,171.05 L306.50,171.14 L307.50,171.22 L308.50,171.31 L309.50,171.39 L310.50,171.48 L311.50,171.57 L312.50,171.65 L313.50,171.74 L314.50,171.83 L315.50,171.92 L316.50,172.01 L317.50,172.10 L318.50,172.19 L319.50,172.29 L320.50,172.38 L321.50,172.48 L322.50,172.57 L323.50,172.67 L324.50,172.76 L325.50,172.86 L326.50,172.96 L327.50,173.06 L328.50,173.16 L329.50,173.26 L330.50,173.36 L331.50,173.47 L332.50,173.57 L333.50,173.67 L334.50,173.78 L335.50,173.89 L336.50,173.99 L337.50,174.10 L338.50,174.21 L339.50,174.32 L340.50,174.43 L341.50,174.54 L342.50,174.66 L343.50,174.77 L344.50,174.89 L345.50,175.00 L346.50,175.12 L347.50,175.24 L348.50,175.35 L349.50,175.47 L350.50,175.60 L351.50,175.72 L352.50,175.84 L353.50,175.96 L354.50,176.09 L355.50,176.21 L356.50,176.34 L357.50,176.47 L358.50,176.60 L359.50,176.73 L360.50,176.86 L361.50,176.99 L362.50,177.13 L363.50,177.26 L364.50,177.40 L365.50,177.53 L366.50,177.67 L367.50,177.81" fill="none" stroke="#8a8a22" stroke-width="1.0"/>
<line x1="256.50" y1="164.00" x2="256.50" y2="171.00" stroke="#8a8a22" stroke-width="0.6" />
<line x1="255.50" y1="164.00" x2="257.50" y2="164.00" stroke="#8a8a22" stroke-width="0.6" />
<line x1="255.50" y1="171.00" x2="257.50" y2="171.00" stroke="#8a8a22" stroke-width="0.6" />
<path d="M255.00,167.50 L256.50,166.00 L258.00,167.50 L256.50,169.00Z" fill="#8a8a22"/>
<line x1="276.50" y1="165.50" x2="276.50" y2="172.50" stroke="#8a8a22" stroke-width="0.6" />
<line x1="275.50" y1="165.50" x2="277.50" y2="165.50" stroke="#8a8a22" stroke-width="0.6" />
<line x1="275.50" y1="172.50" x2="277.50" y2="172.50" stroke="#8a8a22" stroke-width="0.6" />
<path d="M275.00,169.00 L276.50,167.50 L278.00,169.00 L276.50,170.50Z" fill="#8a8a22"/>
<line x1="296.80" y1="167.00" x2="296.80" y2="174.00" stroke="#8a8a22" stroke-width="0.6" />
<line x1="295.80" y1="167.00" x2="297.80" y2="167.00" stroke="#8a8a22" stroke-width="0.6" />
<line x1="295.80" y1="174.00" x2="297.80" y2="174.00" stroke="#8a8a22" stroke-width="0.6" />
<path d="M295.30,170.50 L296.80,169.00 L298.30,170.50 L296.80,172.00Z" fill="#8a8a22"/>
<line x1="316.20" y1="169.00" x2="316.20" y2="176.00" stroke="#8a8a22" stroke-width="0.6" />
<line x1="315.20" y1="169.00" x2="317.20" y2="169.00" stroke="#8a8a22" stroke-width="0.6" />
<line x1="315.20" y1="176.00" x2="317.20" y2="176.00" stroke="#8a8a22" stroke-width="0.6" />
<path d="M314.70,172.50 L316.20,171.00 L317.70,172.50 L316.20,174.00Z" fill="#8a8a22"/>
<line x1="336.20" y1="170.10" x2="336.20" y2="177.10" stroke="#8a8a22" stroke-width="0.6" />
<line x1="335.20" y1="170.10" x2="337.20" y2="170.10" stroke="#8a8a22" stroke-width="0.6" />
<line x1="335.20" y1="177.10" x2="337.20" y2="177.10" stroke="#8a8a22" stroke-width="0.6" />
<path d="M334.70,173.60 L336.20,172.10 L337.70,173.60 L336.20,175.10Z" fill="#8a8a22"/>
<line x1="350.00" y1="172.00" x2="350.00" y2="179.00" stroke="#8a8a22" stroke-width="0.6" />
<line x1="349.00" y1="172.00" x2="351.00" y2="172.00" stroke="#8a8a22" stroke-width="0.6" />
<line x1="349.00" y1="179.00" x2="351.00" y2="179.00" stroke="#8a8a22" stroke-width="0.6" />
<path d="M348.50,175.50 L350.00,174.00 L351.50,175.50 L350.00,177.00Z" fill="#8a8a22"/>
<line x1="356.40" y1="172.50" x2="356.40" y2="179.50" stroke="#8a8a22" stroke-width="0.6" />
<line x1="355.40" y1="172.50" x2="357.40" y2="172.50" stroke="#8a8a22" stroke-width="0.6" />
<line x1="355.40" y1="179.50" x2="357.40" y2="179.50" stroke="#8a8a22" stroke-width="0.6" />
<path d="M354.90,176.00 L356.40,174.50 L357.90,176.00 L356.40,177.50Z" fill="#8a8a22"/>
<line x1="362.00" y1="173.00" x2="362.00" y2="180.00" stroke="#8a8a22" stroke-width="0.6" />
<line x1="361.00" y1="173.00" x2="363.00" y2="173.00" stroke="#8a8a22" stroke-width="0.6" />
<line x1="361.00" y1="180.00" x2="363.00" y2="180.00" stroke="#8a8a22" stroke-width="0.6" />
<path d="M360.50,176.50 L362.00,175.00 L363.50,176.50 L362.00,178.00Z" fill="#8a8a22"/>
<line x1="368.30" y1="175.20" x2="368.30" y2="182.20" stroke="#8a8a22" stroke-width="0.6" />
<line x1="367.30" y1="175.20" x2="369.30" y2="175.20" stroke="#8a8a22" stroke-width="0.6" />
<line x1="367.30" y1="182.20" x2="369.30" y2="182.20" stroke="#8a8a22" stroke-width="0.6" />
<path d="M366.80,178.70 L368.30,177.20 L369.80,178.70 L368.30,180.20Z" fill="#8a8a22"/>
<path d="M256.50,172.88 L257.50,172.93 L258.50,172.98 L259.50,173.04 L260.50,173.10 L261.50,173.15 L262.50,173.22 L263.50,173.28 L264.50,173.35 L265.50,173.42 L266.50,173.49 L267.50,173.57 L268.50,173.65 L269.50,173.74 L270.50,173.82 L271.50,173.91 L272.50,174.01 L273.50,174.11 L274.50,174.21 L275.50,174.32 L276.50,174.43 L277.50,174.55 L278.50,174.67 L279.50,174.80 L280.50,174.93 L281.50,175.07 L282.50,175.22 L283.50,175.37 L284.50,175.53 L285.50,175.69 L286.50,175.86 L287.50,176.04 L288.50,176.22 L289.50,176.42 L290.50,176.62 L291.50,176.83 L292.50,177.05 L293.50,177.28 L294.50,177.52 L295.50,177.77 L296.50,178.03 L297.50,178.29 L298.50,178.58 L299.50,178.87 L300.50,179.17 L301.50,179.49 L302.50,179.82 L303.50,180.16 L304.50,180.52 L305.50,180.89 L306.50,181.28 L307.50,181.68 L308.50,182.10 L309.50,182.54 L310.50,182.99 L311.50,183.47 L312.50,183.96 L313.50,184.47 L314.50,185.00 L315.50,185.55 L316.50,186.12 L317.50,186.72 L318.50,187.34 L319.50,187.98 L320.50,188.65 L321.50,189.34 L322.50,190.06 L323.50,190.80 L324.50,191.57 L325.50,192.38 L326.50,193.21 L327.50,194.07 L328.50,194.96 L329.50,195.88 L330.50,196.84 L331.50,197.83 L332.50,198.85 L333.50,199.91 L334.50,201.01 L335.50,202.14 L336.50,203.31 L337.50,204.52 L338.50,205.77 L339.50,207.06 L340.50,208.39 L341.50,209.76 L342.50,211.17 L343.50,212.62 L344.50,214.12 L345.50,215.66 L346.50,217.25 L347.50,218.88 L348.50,220.55 L349.50,222.27 L350.50,224.03 L351.50,225.84 L352.50,227.70 L353.50,229.59 L354.50,231.54 L355.50,233.53 L356.50,235.56 L357.50,237.64 L358.50,239.76 L359.50,241.92 L360.50,244.13 L361.50,246.38 L362.50,248.66 L363.50,250.99 L364.50,253.35 L365.50,255.75 L366.50,258.19 L367.50,260.66" fill="none" stroke="#148a3a" stroke-width="1.0"/>
<line x1="256.50" y1="169.00" x2="256.50" y2="175.00" stroke="#148a3a" stroke-width="0.6" />
<line x1="255.50" y1="169.00" x2="257.50" y2="169.00" stroke="#148a3a" stroke-width="0.6" />
<line x1="255.50" y1="175.00" x2="257.50" y2="175.00" stroke="#148a3a" stroke-width="0.6" />
<path d="M255.10,173.10 L257.90,173.10 L256.50,170.60Z" fill="#148a3a"/>
<line x1="276.50" y1="171.00" x2="276.50" y2="177.00" stroke="#148a3a" stroke-width="0.6" />
<line x1="275.50" y1="171.00" x2="277.50" y2="171.00" stroke="#148a3a" stroke-width="0.6" />
<line x1="275.50" y1="177.00" x2="277.50" y2="177.00" stroke="#148a3a" stroke-width="0.6" />
<path d="M275.10,175.10 L277.90,175.10 L276.50,172.60Z" fill="#148a3a"/>
<line x1="296.80" y1="176.00" x2="296.80" y2="182.00" stroke="#148a3a" stroke-width="0.6" />
<line x1="295.80" y1="176.00" x2="297.80" y2="176.00" stroke="#148a3a" stroke-width="0.6" />
<line x1="295.80" y1="182.00" x2="297.80" y2="182.00" stroke="#148a3a" stroke-width="0.6" />
<path d="M295.40,180.10 L298.20,180.10 L296.80,177.60Z" fill="#148a3a"/>
<line x1="316.20" y1="184.90" x2="316.20" y2="190.90" stroke="#148a3a" stroke-width="0.6" />
<line x1="315.20" y1="184.90" x2="317.20" y2="184.90" stroke="#148a3a" stroke-width="0.6" />
<line x1="315.20" y1="190.90" x2="317.20" y2="190.90" stroke="#148a3a" stroke-width="0.6" />
<path d="M314.80,189.00 L317.60,189.00 L316.20,186.50Z" fill="#148a3a"/>
<line x1="336.20" y1="199.20" x2="336.20" y2="205.20" stroke="#148a3a" stroke-width="0.6" />
<line x1="335.20" y1="199.20" x2="337.20" y2="199.20" stroke="#148a3a" stroke-width="0.6" />
<line x1="335.20" y1="205.20" x2="337.20" y2="205.20" stroke="#148a3a" stroke-width="0.6" />
<path d="M334.80,203.30 L337.60,203.30 L336.20,200.80Z" fill="#148a3a"/>
<line x1="350.00" y1="214.50" x2="350.00" y2="220.50" stroke="#148a3a" stroke-width="0.6" />
<line x1="349.00" y1="214.50" x2="351.00" y2="214.50" stroke="#148a3a" stroke-width="0.6" />
<line x1="349.00" y1="220.50" x2="351.00" y2="220.50" stroke="#148a3a" stroke-width="0.6" />
<path d="M348.60,218.60 L351.40,218.60 L350.00,216.10Z" fill="#148a3a"/>
<line x1="356.40" y1="237.40" x2="356.40" y2="243.40" stroke="#148a3a" stroke-width="0.6" />
<line x1="355.40" y1="237.40" x2="357.40" y2="237.40" stroke="#148a3a" stroke-width="0.6" />
<line x1="355.40" y1="243.40" x2="357.40" y2="243.40" stroke="#148a3a" stroke-width="0.6" />
<path d="M355.00,241.50 L357.80,241.50 L356.40,239.00Z" fill="#148a3a"/>
<line x1="362.00" y1="246.00" x2="362.00" y2="252.00" stroke="#148a3a" stroke-width="0.6" />
<line x1="361.00" y1="246.00" x2="363.00" y2="246.00" stroke="#148a3a" stroke-width="0.6" />
<line x1="361.00" y1="252.00" x2="363.00" y2="252.00" stroke="#148a3a" stroke-width="0.6" />
<path d="M360.60,250.10 L363.40,250.10 L362.00,247.60Z" fill="#148a3a"/>
<line x1="368.30" y1="258.00" x2="368.30" y2="264.00" stroke="#148a3a" stroke-width="0.6" />
<line x1="367.30" y1="258.00" x2="369.30" y2="258.00" stroke="#148a3a" stroke-width="0.6" />
<line x1="367.30" y1="264.00" x2="369.30" y2="264.00" stroke="#148a3a" stroke-width="0.6" />
<path d="M366.90,262.10 L369.70,262.10 L368.30,259.60Z" fill="#148a3a"/>
<path d="M256.50,172.08 L257.50,172.12 L258.50,172.16 L259.50,172.21 L260.50,172.26 L261.50,172.31 L262.50,172.37 L263.50,172.42 L264.50,172.48 L265.50,172.54 L266.50,172.61 L267.50,172.67 L268.50,172.74 L269.50,172.82 L270.50,172.90 L271.50,172.98 L272.50,173.06 L273.50,173.15 L274.50,173.24 L275.50,173.33 L276.50,173.43 L277.50,173.54 L278.50,173.65 L279.50,173.76 L280.50,173.88 L281.50,174.00 L282.50,174.13 L283.50,174.27 L284.50,174.41 L285.50,174.56 L286.50,174.71 L287.50,174.87 L288.50,175.04 L289.50,175.21 L290.50,175.40 L291.50,175.59 L292.50,175.79 L293.50,176.00 L294.50,176.21 L295.50,176.44 L296.50,176.68 L297.50,176.92 L298.50,177.18 L299.50,177.45 L300.50,177.73 L301.50,178.02 L302.50,178.33 L303.50,178.65 L304.50,178.98 L305.50,179.32 L306.50,179.68 L307.50,180.06 L308.50,180.45 L309.50,180.86 L310.50,181.29 L311.50,181.73 L312.50,182.19 L313.50,182.67 L314.50,183.17 L315.50,183.69 L316.50,184.24 L317.50,184.80 L318.50,185.39 L319.50,186.00 L320.50,186.64 L321.50,187.30 L322.50,187.99 L323.50,188.70 L324.50,189.45 L325.50,190.22 L326.50,191.02 L327.50,191.86 L328.50,192.72 L329.50,193.62 L330.50,194.55 L331.50,195.52 L332.50,196.52 L333.50,197.56 L334.50,198.63 L335.50,199.75 L336.50,200.90 L337.50,202.10 L338.50,203.33 L339.50,204.61 L340.50,205.93 L341.50,207.30 L342.50,208.71 L343.50,210.17 L344.50,211.67 L345.50,213.22 L346.50,214.82 L347.50,216.46 L348.50,218.16 L349.50,219.90 L350.50,221.69 L351.50,223.54 L352.50,225.43 L353.50,227.38 L354.50,229.37 L355.50,231.42 L356.50,233.51 L357.50,235.66 L358.50,237.85 L359.50,240.09 L360.50,242.39 L361.50,244.73 L362.50,247.11 L363.50,249.54 L364.50,252.02 L365.50,254.54 L366.50,257.10 L367.50,259.71" fill="none" stroke="#2e3ea8" stroke-width="1.0"/>
<line x1="256.50" y1="168.50" x2="256.50" y2="174.50" stroke="#2e3ea8" stroke-width="0.6" />
<line x1="255.50" y1="168.50" x2="257.50" y2="168.50" stroke="#2e3ea8" stroke-width="0.6" />
<line x1="255.50" y1="174.50" x2="257.50" y2="174.50" stroke="#2e3ea8" stroke-width="0.6" />
<path d="M255.00,171.50 L256.50,170.00 L258.00,171.50 L256.50,173.00Z" fill="#2e3ea8"/>
<line x1="276.50" y1="170.50" x2="276.50" y2="176.50" stroke="#2e3ea8" stroke-width="0.6" />
<line x1="275.50" y1="170.50" x2="277.50" y2="170.50" stroke="#2e3ea8" stroke-width="0.6" />
<line x1="275.50" y1="176.50" x2="277.50" y2="176.50" stroke="#2e3ea8" stroke-width="0.6" />
<path d="M275.00,173.50 L276.50,172.00 L278.00,173.50 L276.50,175.00Z" fill="#2e3ea8"/>
<line x1="296.80" y1="174.00" x2="296.80" y2="180.00" stroke="#2e3ea8" stroke-width="0.6" />
<line x1="295.80" y1="174.00" x2="297.80" y2="174.00" stroke="#2e3ea8" stroke-width="0.6" />
<line x1="295.80" y1="180.00" x2="297.80" y2="180.00" stroke="#2e3ea8" stroke-width="0.6" />
<path d="M295.30,177.00 L296.80,175.50 L298.30,177.00 L296.80,178.50Z" fill="#2e3ea8"/>
<line x1="316.20" y1="182.00" x2="316.20" y2="188.00" stroke="#2e3ea8" stroke-width="0.6" />
<line x1="315.20" y1="182.00" x2="317.20" y2="182.00" stroke="#2e3ea8" stroke-width="0.6" />
<line x1="315.20" y1="188.00" x2="317.20" y2="188.00" stroke="#2e3ea8" stroke-width="0.6" />
<path d="M314.70,185.00 L316.20,183.50 L317.70,185.00 L316.20,186.50Z" fill="#2e3ea8"/>
<line x1="336.20" y1="197.30" x2="336.20" y2="203.30" stroke="#2e3ea8" stroke-width="0.6" />
<line x1="335.20" y1="197.30" x2="337.20" y2="197.30" stroke="#2e3ea8" stroke-width="0.6" />
<line x1="335.20" y1="203.30" x2="337.20" y2="203.30" stroke="#2e3ea8" stroke-width="0.6" />
<path d="M334.70,200.30 L336.20,198.80 L337.70,200.30 L336.20,201.80Z" fill="#2e3ea8"/>
<line x1="350.00" y1="215.40" x2="350.00" y2="221.40" stroke="#2e3ea8" stroke-width="0.6" />
<line x1="349.00" y1="215.40" x2="351.00" y2="215.40" stroke="#2e3ea8" stroke-width="0.6" />
<line x1="349.00" y1="221.40" x2="351.00" y2="221.40" stroke="#2e3ea8" stroke-width="0.6" />
<path d="M348.50,218.40 L350.00,216.90 L351.50,218.40 L350.00,219.90Z" fill="#2e3ea8"/>
<line x1="356.40" y1="232.00" x2="356.40" y2="238.00" stroke="#2e3ea8" stroke-width="0.6" />
<line x1="355.40" y1="232.00" x2="357.40" y2="232.00" stroke="#2e3ea8" stroke-width="0.6" />
<line x1="355.40" y1="238.00" x2="357.40" y2="238.00" stroke="#2e3ea8" stroke-width="0.6" />
<path d="M354.90,235.00 L356.40,233.50 L357.90,235.00 L356.40,236.50Z" fill="#2e3ea8"/>
<line x1="362.00" y1="244.00" x2="362.00" y2="250.00" stroke="#2e3ea8" stroke-width="0.6" />
<line x1="361.00" y1="244.00" x2="363.00" y2="244.00" stroke="#2e3ea8" stroke-width="0.6" />
<line x1="361.00" y1="250.00" x2="363.00" y2="250.00" stroke="#2e3ea8" stroke-width="0.6" />
<path d="M360.50,247.00 L362.00,245.50 L363.50,247.00 L362.00,248.50Z" fill="#2e3ea8"/>
<line x1="368.30" y1="258.00" x2="368.30" y2="264.00" stroke="#2e3ea8" stroke-width="0.6" />
<line x1="367.30" y1="258.00" x2="369.30" y2="258.00" stroke="#2e3ea8" stroke-width="0.6" />
<line x1="367.30" y1="264.00" x2="369.30" y2="264.00" stroke="#2e3ea8" stroke-width="0.6" />
<path d="M366.80,261.00 L368.30,259.50 L369.80,261.00 L368.30,262.50Z" fill="#2e3ea8"/>
<path d="M256.50,170.67 L257.50,170.68 L258.50,170.69 L259.50,170.70 L260.50,170.72 L261.50,170.73 L262.50,170.74 L263.50,170.76 L264.50,170.77 L265.50,170.79 L266.50,170.81 L267.50,170.83 L268.50,170.85 L269.50,170.87 L270.50,170.89 L271.50,170.92 L272.50,170.94 L273.50,170.97 L274.50,171.00 L275.50,171.04 L276.50,171.07 L277.50,171.11 L278.50,171.15 L279.50,171.19 L280.50,171.23 L281.50,171.28 L282.50,171.33 L283.50,171.39 L284.50,171.45 L285.50,171.51 L286.50,171.58 L287.50,171.65 L288.50,171.73 L289.50,171.81 L290.50,171.89 L291.50,171.99 L292.50,172.09 L293.50,172.19 L294.50,172.30 L295.50,172.43 L296.50,172.55 L297.50,172.69 L298.50,172.84 L299.50,172.99 L300.50,173.16 L301.50,173.34 L302.50,173.53 L303.50,173.73 L304.50,173.94 L305.50,174.17 L306.50,174.41 L307.50,174.67 L308.50,174.95 L309.50,175.25 L310.50,175.56 L311.50,175.89 L312.50,176.25 L313.50,176.62 L314.50,177.02 L315.50,177.45 L316.50,177.90 L317.50,178.38 L318.50,178.89 L319.50,179.43 L320.50,180.00 L321.50,180.61 L322.50,181.25 L323.50,181.93 L324.50,182.65 L325.50,183.41 L326.50,184.21 L327.50,185.06 L328.50,185.95 L329.50,186.89 L330.50,187.88 L331.50,188.92 L332.50,190.02 L333.50,191.17 L334.50,192.37 L335.50,193.64 L336.50,194.96 L337.50,196.34 L338.50,197.78 L339.50,199.29 L340.50,200.85 L341.50,202.48 L342.50,204.16 L343.50,205.91 L344.50,207.72 L345.50,209.59 L346.50,211.52 L347.50,213.50 L348.50,215.54 L349.50,217.63 L350.50,219.77 L351.50,221.96 L352.50,224.18 L353.50,226.45 L354.50,228.75 L355.50,231.08 L356.50,233.44 L357.50,235.82 L358.50,238.21 L359.50,240.62 L360.50,243.02 L361.50,245.43 L362.50,247.84 L363.50,250.23 L364.50,252.61 L365.50,254.96 L366.50,257.29 L367.50,259.59" fill="none" stroke="#e52020" stroke-width="1.0"/>
<line x1="256.50" y1="167.00" x2="256.50" y2="173.00" stroke="#e52020" stroke-width="0.6" />
<line x1="255.50" y1="167.00" x2="257.50" y2="167.00" stroke="#e52020" stroke-width="0.6" />
<line x1="255.50" y1="173.00" x2="257.50" y2="173.00" stroke="#e52020" stroke-width="0.6" />
<rect x="255.10" y="168.60" width="2.80" height="2.80" fill="#e52020" />
<line x1="276.50" y1="168.00" x2="276.50" y2="174.00" stroke="#e52020" stroke-width="0.6" />
<line x1="275.50" y1="168.00" x2="277.50" y2="168.00" stroke="#e52020" stroke-width="0.6" />
<line x1="275.50" y1="174.00" x2="277.50" y2="174.00" stroke="#e52020" stroke-width="0.6" />
<rect x="275.10" y="169.60" width="2.80" height="2.80" fill="#e52020" />
<line x1="296.80" y1="169.00" x2="296.80" y2="175.00" stroke="#e52020" stroke-width="0.6" />
<line x1="295.80" y1="169.00" x2="297.80" y2="169.00" stroke="#e52020" stroke-width="0.6" />
<line x1="295.80" y1="175.00" x2="297.80" y2="175.00" stroke="#e52020" stroke-width="0.6" />
<rect x="295.40" y="170.60" width="2.80" height="2.80" fill="#e52020" />
<line x1="316.20" y1="176.30" x2="316.20" y2="182.30" stroke="#e52020" stroke-width="0.6" />
<line x1="315.20" y1="176.30" x2="317.20" y2="176.30" stroke="#e52020" stroke-width="0.6" />
<line x1="315.20" y1="182.30" x2="317.20" y2="182.30" stroke="#e52020" stroke-width="0.6" />
<rect x="314.80" y="177.90" width="2.80" height="2.80" fill="#e52020" />
<line x1="336.20" y1="193.50" x2="336.20" y2="199.50" stroke="#e52020" stroke-width="0.6" />
<line x1="335.20" y1="193.50" x2="337.20" y2="193.50" stroke="#e52020" stroke-width="0.6" />
<line x1="335.20" y1="199.50" x2="337.20" y2="199.50" stroke="#e52020" stroke-width="0.6" />
<rect x="334.80" y="195.10" width="2.80" height="2.80" fill="#e52020" />
<line x1="350.00" y1="208.80" x2="350.00" y2="214.80" stroke="#e52020" stroke-width="0.6" />
<line x1="349.00" y1="208.80" x2="351.00" y2="208.80" stroke="#e52020" stroke-width="0.6" />
<line x1="349.00" y1="214.80" x2="351.00" y2="214.80" stroke="#e52020" stroke-width="0.6" />
<rect x="348.60" y="210.40" width="2.80" height="2.80" fill="#e52020" />
<line x1="356.40" y1="234.50" x2="356.40" y2="240.50" stroke="#e52020" stroke-width="0.6" />
<line x1="355.40" y1="234.50" x2="357.40" y2="234.50" stroke="#e52020" stroke-width="0.6" />
<line x1="355.40" y1="240.50" x2="357.40" y2="240.50" stroke="#e52020" stroke-width="0.6" />
<rect x="355.00" y="236.10" width="2.80" height="2.80" fill="#e52020" />
<line x1="362.00" y1="246.00" x2="362.00" y2="252.00" stroke="#e52020" stroke-width="0.6" />
<line x1="361.00" y1="246.00" x2="363.00" y2="246.00" stroke="#e52020" stroke-width="0.6" />
<line x1="361.00" y1="252.00" x2="363.00" y2="252.00" stroke="#e52020" stroke-width="0.6" />
<rect x="360.60" y="247.60" width="2.80" height="2.80" fill="#e52020" />
<line x1="368.30" y1="256.50" x2="368.30" y2="262.50" stroke="#e52020" stroke-width="0.6" />
<line x1="367.30" y1="256.50" x2="369.30" y2="256.50" stroke="#e52020" stroke-width="0.6" />
<line x1="367.30" y1="262.50" x2="369.30" y2="262.50" stroke="#e52020" stroke-width="0.6" />
<rect x="366.90" y="258.10" width="2.80" height="2.80" fill="#e52020" />
<path d="M256.50,172.15 L257.50,172.17 L258.50,172.19 L259.50,172.22 L260.50,172.25 L261.50,172.27 L262.50,172.30 L263.50,172.33 L264.50,172.37 L265.50,172.40 L266.50,172.43 L267.50,172.47 L268.50,172.51 L269.50,172.55 L270.50,172.59 L271.50,172.63 L272.50,172.68 L273.50,172.73 L274.50,172.78 L275.50,172.83 L276.50,172.89 L277.50,172.94 L278.50,173.01 L279.50,173.07 L280.50,173.14 L281.50,173.20 L282.50,173.28 L283.50,173.35 L284.50,173.43 L285.50,173.52 L286.50,173.61 L287.50,173.70 L288.50,173.79 L289.50,173.89 L290.50,174.00 L291.50,174.11 L292.50,174.23 L293.50,174.35 L294.50,174.47 L295.50,174.61 L296.50,174.74 L297.50,174.89 L298.50,175.04 L299.50,175.20 L300.50,175.37 L301.50,175.54 L302.50,175.73 L303.50,175.92 L304.50,176.12 L305.50,176.33 L306.50,176.55 L307.50,176.78 L308.50,177.02 L309.50,177.27 L310.50,177.54 L311.50,177.82 L312.50,178.11 L313.50,178.41 L314.50,178.73 L315.50,179.06 L316.50,179.41 L317.50,179.78 L318.50,180.16 L319.50,180.56 L320.50,180.98 L321.50,181.42 L322.50,181.88 L323.50,182.36 L324.50,182.86 L325.50,183.39 L326.50,183.94 L327.50,184.52 L328.50,185.13 L329.50,185.76 L330.50,186.43 L331.50,187.13 L332.50,187.85 L333.50,188.62 L334.50,189.42 L335.50,190.25 L336.50,191.13 L337.50,192.05 L338.50,193.01 L339.50,194.02 L340.50,195.07 L341.50,196.17 L342.50,197.33 L343.50,198.54 L344.50,199.80 L345.50,201.13 L346.50,202.52 L347.50,203.97 L348.50,205.50 L349.50,207.09 L350.50,208.76 L351.50,210.51 L352.50,212.34 L353.50,214.26 L354.50,216.27 L355.50,218.37 L356.50,220.57 L357.50,222.88 L358.50,225.29 L359.50,227.82 L360.50,230.46 L361.50,233.24 L362.50,236.14 L363.50,239.18 L364.50,242.36 L365.50,245.69 L366.50,249.18 L367.50,252.83" fill="none" stroke="#111" stroke-width="1.0"/>
<line x1="256.50" y1="168.00" x2="256.50" y2="174.00" stroke="#111" stroke-width="0.6" />
<line x1="255.50" y1="168.00" x2="257.50" y2="168.00" stroke="#111" stroke-width="0.6" />
<line x1="255.50" y1="174.00" x2="257.50" y2="174.00" stroke="#111" stroke-width="0.6" />
<path d="M255.00,171.00 L256.50,169.50 L258.00,171.00 L256.50,172.50Z" fill="#111"/>
<line x1="276.50" y1="169.00" x2="276.50" y2="175.00" stroke="#111" stroke-width="0.6" />
<line x1="275.50" y1="169.00" x2="277.50" y2="169.00" stroke="#111" stroke-width="0.6" />
<line x1="275.50" y1="175.00" x2="277.50" y2="175.00" stroke="#111" stroke-width="0.6" />
<path d="M275.00,172.00 L276.50,170.50 L278.00,172.00 L276.50,173.50Z" fill="#111"/>
<line x1="296.80" y1="171.50" x2="296.80" y2="177.50" stroke="#111" stroke-width="0.6" />
<line x1="295.80" y1="171.50" x2="297.80" y2="171.50" stroke="#111" stroke-width="0.6" />
<line x1="295.80" y1="177.50" x2="297.80" y2="177.50" stroke="#111" stroke-width="0.6" />
<path d="M295.30,174.50 L296.80,173.00 L298.30,174.50 L296.80,176.00Z" fill="#111"/>
<line x1="316.20" y1="178.00" x2="316.20" y2="184.00" stroke="#111" stroke-width="0.6" />
<line x1="315.20" y1="178.00" x2="317.20" y2="178.00" stroke="#111" stroke-width="0.6" />
<line x1="315.20" y1="184.00" x2="317.20" y2="184.00" stroke="#111" stroke-width="0.6" />
<path d="M314.70,181.00 L316.20,179.50 L317.70,181.00 L316.20,182.50Z" fill="#111"/>
<line x1="336.20" y1="190.60" x2="336.20" y2="196.60" stroke="#111" stroke-width="0.6" />
<line x1="335.20" y1="190.60" x2="337.20" y2="190.60" stroke="#111" stroke-width="0.6" />
<line x1="335.20" y1="196.60" x2="337.20" y2="196.60" stroke="#111" stroke-width="0.6" />
<path d="M334.70,193.60 L336.20,192.10 L337.70,193.60 L336.20,195.10Z" fill="#111"/>
<line x1="350.00" y1="205.90" x2="350.00" y2="211.90" stroke="#111" stroke-width="0.6" />
<line x1="349.00" y1="205.90" x2="351.00" y2="205.90" stroke="#111" stroke-width="0.6" />
<line x1="349.00" y1="211.90" x2="351.00" y2="211.90" stroke="#111" stroke-width="0.6" />
<path d="M348.50,208.90 L350.00,207.40 L351.50,208.90 L350.00,210.40Z" fill="#111"/>
<line x1="356.40" y1="214.50" x2="356.40" y2="220.50" stroke="#111" stroke-width="0.6" />
<line x1="355.40" y1="214.50" x2="357.40" y2="214.50" stroke="#111" stroke-width="0.6" />
<line x1="355.40" y1="220.50" x2="357.40" y2="220.50" stroke="#111" stroke-width="0.6" />
<path d="M354.90,217.50 L356.40,216.00 L357.90,217.50 L356.40,219.00Z" fill="#111"/>
<line x1="362.00" y1="228.80" x2="362.00" y2="234.80" stroke="#111" stroke-width="0.6" />
<line x1="361.00" y1="228.80" x2="363.00" y2="228.80" stroke="#111" stroke-width="0.6" />
<line x1="361.00" y1="234.80" x2="363.00" y2="234.80" stroke="#111" stroke-width="0.6" />
<path d="M360.50,231.80 L362.00,230.30 L363.50,231.80 L362.00,233.30Z" fill="#111"/>
<line x1="368.30" y1="255.50" x2="368.30" y2="261.50" stroke="#111" stroke-width="0.6" />
<line x1="367.30" y1="255.50" x2="369.30" y2="255.50" stroke="#111" stroke-width="0.6" />
<line x1="367.30" y1="261.50" x2="369.30" y2="261.50" stroke="#111" stroke-width="0.6" />
<path d="M366.80,258.50 L368.30,257.00 L369.80,258.50 L368.30,260.00Z" fill="#111"/>
<path d="M256.50,172.17 L257.50,172.19 L258.50,172.21 L259.50,172.24 L260.50,172.26 L261.50,172.29 L262.50,172.32 L263.50,172.35 L264.50,172.38 L265.50,172.41 L266.50,172.45 L267.50,172.48 L268.50,172.52 L269.50,172.56 L270.50,172.60 L271.50,172.64 L272.50,172.69 L273.50,172.74 L274.50,172.79 L275.50,172.84 L276.50,172.89 L277.50,172.95 L278.50,173.01 L279.50,173.07 L280.50,173.14 L281.50,173.21 L282.50,173.28 L283.50,173.35 L284.50,173.43 L285.50,173.51 L286.50,173.60 L287.50,173.69 L288.50,173.79 L289.50,173.89 L290.50,173.99 L291.50,174.10 L292.50,174.21 L293.50,174.33 L294.50,174.46 L295.50,174.59 L296.50,174.73 L297.50,174.87 L298.50,175.02 L299.50,175.18 L300.50,175.34 L301.50,175.52 L302.50,175.70 L303.50,175.89 L304.50,176.09 L305.50,176.30 L306.50,176.52 L307.50,176.75 L308.50,176.99 L309.50,177.24 L310.50,177.50 L311.50,177.78 L312.50,178.07 L313.50,178.37 L314.50,178.68 L315.50,179.02 L316.50,179.36 L317.50,179.73 L318.50,180.11 L319.50,180.51 L320.50,180.93 L321.50,181.37 L322.50,181.83 L323.50,182.31 L324.50,182.81 L325.50,183.34 L326.50,183.89 L327.50,184.47 L328.50,185.08 L329.50,185.71 L330.50,186.38 L331.50,187.08 L332.50,187.81 L333.50,188.57 L334.50,189.37 L335.50,190.21 L336.50,191.09 L337.50,192.01 L338.50,192.98 L339.50,193.99 L340.50,195.05 L341.50,196.16 L342.50,197.32 L343.50,198.53 L344.50,199.81 L345.50,201.14 L346.50,202.54 L347.50,204.01 L348.50,205.54 L349.50,207.15 L350.50,208.83 L351.50,210.59 L352.50,212.44 L353.50,214.37 L354.50,216.40 L355.50,218.52 L356.50,220.75 L357.50,223.08 L358.50,225.52 L359.50,228.07 L360.50,230.75 L361.50,233.55 L362.50,236.49 L363.50,239.56 L364.50,242.79 L365.50,246.16 L366.50,249.70 L367.50,253.40" fill="none" stroke="#a01818" stroke-width="1.0"/>
<line x1="256.50" y1="168.50" x2="256.50" y2="174.50" stroke="#a01818" stroke-width="0.6" />
<line x1="255.50" y1="168.50" x2="257.50" y2="168.50" stroke="#a01818" stroke-width="0.6" />
<line x1="255.50" y1="174.50" x2="257.50" y2="174.50" stroke="#a01818" stroke-width="0.6" />
<path d="M255.10,172.60 L257.90,172.60 L256.50,170.10Z" fill="#a01818"/>
<line x1="276.50" y1="169.40" x2="276.50" y2="175.40" stroke="#a01818" stroke-width="0.6" />
<line x1="275.50" y1="169.40" x2="277.50" y2="169.40" stroke="#a01818" stroke-width="0.6" />
<line x1="275.50" y1="175.40" x2="277.50" y2="175.40" stroke="#a01818" stroke-width="0.6" />
<path d="M275.10,173.50 L277.90,173.50 L276.50,171.00Z" fill="#a01818"/>
<line x1="296.80" y1="171.00" x2="296.80" y2="177.00" stroke="#a01818" stroke-width="0.6" />
<line x1="295.80" y1="171.00" x2="297.80" y2="171.00" stroke="#a01818" stroke-width="0.6" />
<line x1="295.80" y1="177.00" x2="297.80" y2="177.00" stroke="#a01818" stroke-width="0.6" />
<path d="M295.40,175.10 L298.20,175.10 L296.80,172.60Z" fill="#a01818"/>
<line x1="316.20" y1="177.00" x2="316.20" y2="183.00" stroke="#a01818" stroke-width="0.6" />
<line x1="315.20" y1="177.00" x2="317.20" y2="177.00" stroke="#a01818" stroke-width="0.6" />
<line x1="315.20" y1="183.00" x2="317.20" y2="183.00" stroke="#a01818" stroke-width="0.6" />
<path d="M314.80,181.10 L317.60,181.10 L316.20,178.60Z" fill="#a01818"/>
<line x1="336.20" y1="191.00" x2="336.20" y2="197.00" stroke="#a01818" stroke-width="0.6" />
<line x1="335.20" y1="191.00" x2="337.20" y2="191.00" stroke="#a01818" stroke-width="0.6" />
<line x1="335.20" y1="197.00" x2="337.20" y2="197.00" stroke="#a01818" stroke-width="0.6" />
<path d="M334.80,195.10 L337.60,195.10 L336.20,192.60Z" fill="#a01818"/>
<line x1="350.00" y1="206.00" x2="350.00" y2="212.00" stroke="#a01818" stroke-width="0.6" />
<line x1="349.00" y1="206.00" x2="351.00" y2="206.00" stroke="#a01818" stroke-width="0.6" />
<line x1="349.00" y1="212.00" x2="351.00" y2="212.00" stroke="#a01818" stroke-width="0.6" />
<path d="M348.60,210.10 L351.40,210.10 L350.00,207.60Z" fill="#a01818"/>
<line x1="356.40" y1="215.00" x2="356.40" y2="221.00" stroke="#a01818" stroke-width="0.6" />
<line x1="355.40" y1="215.00" x2="357.40" y2="215.00" stroke="#a01818" stroke-width="0.6" />
<line x1="355.40" y1="221.00" x2="357.40" y2="221.00" stroke="#a01818" stroke-width="0.6" />
<path d="M355.00,219.10 L357.80,219.10 L356.40,216.60Z" fill="#a01818"/>
<line x1="362.00" y1="229.00" x2="362.00" y2="235.00" stroke="#a01818" stroke-width="0.6" />
<line x1="361.00" y1="229.00" x2="363.00" y2="229.00" stroke="#a01818" stroke-width="0.6" />
<line x1="361.00" y1="235.00" x2="363.00" y2="235.00" stroke="#a01818" stroke-width="0.6" />
<path d="M360.60,233.10 L363.40,233.10 L362.00,230.60Z" fill="#a01818"/>
<line x1="368.30" y1="256.00" x2="368.30" y2="262.00" stroke="#a01818" stroke-width="0.6" />
<line x1="367.30" y1="256.00" x2="369.30" y2="256.00" stroke="#a01818" stroke-width="0.6" />
<line x1="367.30" y1="262.00" x2="369.30" y2="262.00" stroke="#a01818" stroke-width="0.6" />
<path d="M366.90,260.10 L369.70,260.10 L368.30,257.60Z" fill="#a01818"/>
<line x1="381.50" y1="155.80" x2="388.30" y2="155.80" stroke="#a01818" stroke-width="0.9" />
<path d="M383.50,156.80 L386.30,156.80 L384.90,154.50Z" fill="#a01818"/>
<text x="389.90" y="157.90" font-size="5.9" fill="#333" >HCT116</text>
<line x1="381.50" y1="162.73" x2="388.30" y2="162.73" stroke="#148a3a" stroke-width="0.9" />
<path d="M383.50,163.73 L386.30,163.73 L384.90,161.43Z" fill="#148a3a"/>
<text x="389.90" y="164.83" font-size="5.9" fill="#333" >SW480</text>
<line x1="381.50" y1="169.66" x2="388.30" y2="169.66" stroke="#111" stroke-width="0.9" />
<path d="M383.50,170.66 L386.30,170.66 L384.90,168.36Z" fill="#111"/>
<text x="389.90" y="171.76" font-size="5.9" fill="#333" >HT29</text>
<line x1="381.50" y1="176.59" x2="388.30" y2="176.59" stroke="#e52020" stroke-width="0.9" />
<rect x="383.30" y="175.19" width="3.2" height="2.8" fill="#e52020"/>
<text x="389.90" y="178.69" font-size="5.9" fill="#333" >SW48</text>
<line x1="381.50" y1="183.52" x2="388.30" y2="183.52" stroke="#2e3ea8" stroke-width="0.9" />
<path d="M383.50,184.52 L386.30,184.52 L384.90,182.22Z" fill="#2e3ea8"/>
<text x="389.90" y="185.62" font-size="5.9" fill="#333" >DLD1</text>
<line x1="381.50" y1="190.45" x2="388.30" y2="190.45" stroke="#c07428" stroke-width="0.9" />
<path d="M383.50,191.45 L386.30,191.45 L384.90,189.15Z" fill="#c07428"/>
<text x="389.90" y="192.55" font-size="5.9" fill="#333" >FHC</text>
<line x1="381.50" y1="197.38" x2="388.30" y2="197.38" stroke="#8a8a22" stroke-width="0.9" />
<path d="M383.50,198.38 L386.30,198.38 L384.90,196.08Z" fill="#8a8a22"/>
<text x="389.90" y="199.48" font-size="5.9" fill="#333" >CCD-18Co</text>
<text x="21.30" y="206.20" font-size="7.9" text-anchor="middle" font-weight="bold" textLength="96.50" lengthAdjust="spacingAndGlyphs" transform="rotate(-90 21.30 206.20)" >Relative cell viability (%)</text>
<text x="236.00" y="206.20" font-size="7.9" text-anchor="middle" font-weight="bold" textLength="96.50" lengthAdjust="spacingAndGlyphs" transform="rotate(-90 236.00 206.20)" >Relative cell viability (%)</text>
<line x1="43.50" y1="311.90" x2="43.50" y2="395.50" stroke="#111" stroke-width="1" />
<line x1="43.00" y1="395.50" x2="168.60" y2="395.50" stroke="#111" stroke-width="1.0" />
<line x1="40.90" y1="395.50" x2="43.50" y2="395.50" stroke="#111" stroke-width="0.8" />
<text x="40.20" y="397.60" font-size="8.2" text-anchor="end" fill="#333" >0</text>
<line x1="40.90" y1="367.76" x2="43.50" y2="367.76" stroke="#111" stroke-width="0.8" />
<text x="40.20" y="369.87" font-size="8.2" text-anchor="end" fill="#333" >50</text>
<line x1="40.90" y1="340.03" x2="43.50" y2="340.03" stroke="#111" stroke-width="0.8" />
<text x="40.20" y="342.13" font-size="8.2" text-anchor="end" fill="#333" >100</text>
<line x1="40.90" y1="312.30" x2="43.50" y2="312.30" stroke="#111" stroke-width="0.8" />
<text x="40.20" y="314.40" font-size="8.2" text-anchor="end" fill="#333" >150</text>
<text x="106.25" y="310.80" font-size="8.3" text-anchor="middle" font-weight="bold" textLength="32.10" lengthAdjust="spacingAndGlyphs" >HCT116</text>
<line x1="62.55" y1="340.00" x2="62.55" y2="338.20" stroke="#111" stroke-width="0.9" />
<line x1="57.75" y1="338.20" x2="67.35" y2="338.20" stroke="#111" stroke-width="1.0" />
<rect x="53.50" y="340.50" width="18.10" height="55.00" fill="#e0392e" stroke="#111" stroke-width="1" />
<line x1="91.35" y1="349.30" x2="91.35" y2="347.50" stroke="#111" stroke-width="0.9" />
<line x1="86.55" y1="347.50" x2="96.15" y2="347.50" stroke="#111" stroke-width="1.0" />
<rect x="82.90" y="349.80" width="16.90" height="45.70" fill="#3446a0" stroke="#b0b0b0" stroke-width="1" />
<line x1="120.20" y1="342.40" x2="120.20" y2="341.30" stroke="#111" stroke-width="0.9" />
<line x1="115.40" y1="341.30" x2="125.00" y2="341.30" stroke="#111" stroke-width="1.0" />
<rect x="111.50" y="342.90" width="17.40" height="52.60" fill="#62c010" stroke="#a0a0a0" stroke-width="1" />
<line x1="148.60" y1="379.90" x2="148.60" y2="377.40" stroke="#111" stroke-width="0.9" />
<line x1="143.80" y1="377.40" x2="153.40" y2="377.40" stroke="#111" stroke-width="1.0" />
<rect x="140.20" y="380.40" width="16.80" height="15.10" fill="#9a5a1a" stroke="#c8c8c8" stroke-width="1" />
<line x1="105.00" y1="395.50" x2="105.00" y2="397.30" stroke="#111" stroke-width="0.9" />
<text x="62.55" y="407.20" font-size="7.0" text-anchor="middle" fill="#111" >-</text>
<text x="62.55" y="417.10" font-size="7.0" text-anchor="middle" fill="#111" >-</text>
<text x="91.35" y="407.20" font-size="7.0" text-anchor="middle" fill="#111" >+</text>
<text x="91.35" y="417.10" font-size="7.0" text-anchor="middle" fill="#111" >-</text>
<text x="120.20" y="407.20" font-size="7.0" text-anchor="middle" fill="#111" >-</text>
<text x="120.20" y="417.10" font-size="7.0" text-anchor="middle" fill="#111" >+</text>
<text x="148.60" y="407.20" font-size="7.0" text-anchor="middle" fill="#111" >+</text>
<text x="148.60" y="417.10" font-size="7.0" text-anchor="middle" fill="#111" >+</text>
<text x="41.00" y="407.50" font-size="8.1" text-anchor="end" fill="#333" >5-FU</text>
<text x="41.00" y="417.40" font-size="8.1" text-anchor="end" fill="#333" >TAZ</text>
<path d="M91.50,332.20 L91.50,329.50 L148.50,329.50 L148.50,332.20" fill="none" stroke="#333" stroke-width="1"/>
<text x="118.30" y="330.50" font-size="8.5" text-anchor="middle" fill="#111" >*</text>
<text x="122.20" y="330.50" font-size="8.5" text-anchor="middle" fill="#111" >*</text>
<path d="M120.50,338.00 L120.50,335.50 L148.50,335.50 L148.50,338.00" fill="none" stroke="#333" stroke-width="1"/>
<text x="132.40" y="336.60" font-size="8.5" text-anchor="middle" fill="#111" >*</text>
<text x="136.20" y="336.60" font-size="8.5" text-anchor="middle" fill="#111" >*</text>
<text x="23.00" y="350.80" font-size="8.2" text-anchor="middle" font-weight="bold" textLength="88.40" lengthAdjust="spacingAndGlyphs" transform="rotate(-90 23.00 350.80)" >Survival (% of control)</text>
<line x1="257.50" y1="312.41" x2="257.50" y2="395.50" stroke="#111" stroke-width="1" />
<line x1="257.00" y1="395.50" x2="382.10" y2="395.50" stroke="#111" stroke-width="1.0" />
<line x1="254.90" y1="395.50" x2="257.50" y2="395.50" stroke="#111" stroke-width="0.8" />
<text x="254.20" y="397.60" font-size="8.2" text-anchor="end" fill="#333" >0</text>
<line x1="254.90" y1="367.94" x2="257.50" y2="367.94" stroke="#111" stroke-width="0.8" />
<text x="254.20" y="370.04" font-size="8.2" text-anchor="end" fill="#333" >50</text>
<line x1="254.90" y1="340.37" x2="257.50" y2="340.37" stroke="#111" stroke-width="0.8" />
<text x="254.20" y="342.47" font-size="8.2" text-anchor="end" fill="#333" >100</text>
<line x1="254.90" y1="312.81" x2="257.50" y2="312.81" stroke="#111" stroke-width="0.8" />
<text x="254.20" y="314.91" font-size="8.2" text-anchor="end" fill="#333" >150</text>
<text x="317.60" y="310.50" font-size="8.3" text-anchor="middle" font-weight="bold" textLength="21.00" lengthAdjust="spacingAndGlyphs" >DLD1</text>
<line x1="276.60" y1="340.70" x2="276.60" y2="338.90" stroke="#111" stroke-width="0.9" />
<line x1="271.80" y1="338.90" x2="281.40" y2="338.90" stroke="#111" stroke-width="1.0" />
<rect x="267.80" y="341.20" width="17.60" height="54.30" fill="#e0392e" stroke="#111" stroke-width="1" />
<line x1="305.15" y1="343.20" x2="305.15" y2="341.00" stroke="#111" stroke-width="0.9" />
<line x1="300.35" y1="341.00" x2="309.95" y2="341.00" stroke="#111" stroke-width="1.0" />
<rect x="296.30" y="343.70" width="17.70" height="51.80" fill="#3446a0" stroke="#b0b0b0" stroke-width="1" />
<line x1="333.70" y1="346.30" x2="333.70" y2="344.60" stroke="#111" stroke-width="0.9" />
<line x1="328.90" y1="344.60" x2="338.50" y2="344.60" stroke="#111" stroke-width="1.0" />
<rect x="324.90" y="346.80" width="17.60" height="48.70" fill="#62c010" stroke="#a0a0a0" stroke-width="1" />
<line x1="362.60" y1="380.10" x2="362.60" y2="377.60" stroke="#111" stroke-width="0.9" />
<line x1="357.80" y1="377.60" x2="367.40" y2="377.60" stroke="#111" stroke-width="1.0" />
<rect x="354.40" y="380.60" width="16.40" height="14.90" fill="#9a5a1a" stroke="#c8c8c8" stroke-width="1" />
<line x1="319.20" y1="395.50" x2="319.20" y2="397.30" stroke="#111" stroke-width="0.9" />
<text x="276.60" y="407.10" font-size="7.0" text-anchor="middle" fill="#111" >-</text>
<text x="276.60" y="417.10" font-size="7.0" text-anchor="middle" fill="#111" >-</text>
<text x="305.15" y="407.10" font-size="7.0" text-anchor="middle" fill="#111" >+</text>
<text x="305.15" y="417.10" font-size="7.0" text-anchor="middle" fill="#111" >-</text>
<text x="333.70" y="407.10" font-size="7.0" text-anchor="middle" fill="#111" >-</text>
<text x="333.70" y="417.10" font-size="7.0" text-anchor="middle" fill="#111" >+</text>
<text x="362.60" y="407.10" font-size="7.0" text-anchor="middle" fill="#111" >+</text>
<text x="362.60" y="417.10" font-size="7.0" text-anchor="middle" fill="#111" >+</text>
<text x="255.90" y="407.40" font-size="8.1" text-anchor="end" fill="#333" >5-FU</text>
<text x="255.90" y="417.40" font-size="8.1" text-anchor="end" fill="#333" >TAZ</text>
<path d="M305.50,336.90 L305.50,334.00 L362.20,334.00 L362.20,336.90" fill="none" stroke="#666" stroke-width="1"/>
<text x="332.20" y="335.20" font-size="8.5" text-anchor="middle" fill="#111" >*</text>
<text x="336.00" y="335.20" font-size="8.5" text-anchor="middle" fill="#111" >*</text>
<path d="M334.10,342.70 L334.10,340.00 L362.20,340.00 L362.20,342.70" fill="none" stroke="#666" stroke-width="1"/>
<text x="346.50" y="341.20" font-size="8.5" text-anchor="middle" fill="#111" >*</text>
<text x="350.00" y="341.20" font-size="8.5" text-anchor="middle" fill="#111" >*</text>
<text x="236.00" y="351.00" font-size="8.2" text-anchor="middle" font-weight="bold" textLength="87.20" lengthAdjust="spacingAndGlyphs" transform="rotate(-90 236.00 351.00)" >Survival (% of control)</text>
<line x1="43.50" y1="445.00" x2="43.50" y2="527.50" stroke="#111" stroke-width="1" />
<line x1="43.00" y1="527.50" x2="168.00" y2="527.50" stroke="#111" stroke-width="1.0" />
<line x1="40.90" y1="527.50" x2="43.50" y2="527.50" stroke="#111" stroke-width="0.8" />
<text x="40.20" y="529.60" font-size="8.2" text-anchor="end" fill="#333" >0</text>
<line x1="40.90" y1="500.13" x2="43.50" y2="500.13" stroke="#111" stroke-width="0.8" />
<text x="40.20" y="502.24" font-size="8.2" text-anchor="end" fill="#333" >50</text>
<line x1="40.90" y1="472.77" x2="43.50" y2="472.77" stroke="#111" stroke-width="0.8" />
<text x="40.20" y="474.87" font-size="8.2" text-anchor="end" fill="#333" >100</text>
<line x1="40.90" y1="445.40" x2="43.50" y2="445.40" stroke="#111" stroke-width="0.8" />
<text x="40.20" y="447.50" font-size="8.2" text-anchor="end" fill="#333" >150</text>
<text x="106.10" y="449.70" font-size="8.3" text-anchor="middle" font-weight="bold" textLength="18.00" lengthAdjust="spacingAndGlyphs" >FHC</text>
<line x1="62.30" y1="472.90" x2="62.30" y2="470.80" stroke="#111" stroke-width="0.9" />
<line x1="57.50" y1="470.80" x2="67.10" y2="470.80" stroke="#111" stroke-width="1.0" />
<rect x="53.50" y="473.40" width="17.60" height="54.10" fill="#e0392e" stroke="#111" stroke-width="1" />
<line x1="91.20" y1="473.40" x2="91.20" y2="470.30" stroke="#111" stroke-width="0.9" />
<line x1="86.40" y1="470.30" x2="96.00" y2="470.30" stroke="#111" stroke-width="1.0" />
<rect x="82.40" y="473.90" width="17.60" height="53.60" fill="#3446a0" stroke="#b0b0b0" stroke-width="1" />
<line x1="120.05" y1="473.40" x2="120.05" y2="470.80" stroke="#111" stroke-width="0.9" />
<line x1="115.25" y1="470.80" x2="124.85" y2="470.80" stroke="#111" stroke-width="1.0" />
<rect x="111.20" y="473.90" width="17.70" height="53.60" fill="#62c010" stroke="#a0a0a0" stroke-width="1" />
<line x1="148.90" y1="473.60" x2="148.90" y2="470.30" stroke="#111" stroke-width="0.9" />
<line x1="144.10" y1="470.30" x2="153.70" y2="470.30" stroke="#111" stroke-width="1.0" />
<rect x="140.40" y="474.10" width="17.00" height="53.40" fill="#9a5a1a" stroke="#c8c8c8" stroke-width="1" />
<line x1="105.30" y1="527.50" x2="105.30" y2="529.30" stroke="#111" stroke-width="0.9" />
<text x="62.30" y="540.50" font-size="7.0" text-anchor="middle" fill="#111" >-</text>
<text x="62.30" y="550.90" font-size="7.0" text-anchor="middle" fill="#111" >-</text>
<text x="91.20" y="540.50" font-size="7.0" text-anchor="middle" fill="#111" >+</text>
<text x="91.20" y="550.90" font-size="7.0" text-anchor="middle" fill="#111" >-</text>
<text x="120.05" y="540.50" font-size="7.0" text-anchor="middle" fill="#111" >-</text>
<text x="120.05" y="550.90" font-size="7.0" text-anchor="middle" fill="#111" >+</text>
<text x="148.90" y="540.50" font-size="7.0" text-anchor="middle" fill="#111" >+</text>
<text x="148.90" y="550.90" font-size="7.0" text-anchor="middle" fill="#111" >+</text>
<text x="41.20" y="540.80" font-size="8.1" text-anchor="end" fill="#333" >5-FU</text>
<text x="41.20" y="551.20" font-size="8.1" text-anchor="end" fill="#333" >TAZ</text>
<text x="23.30" y="484.30" font-size="8.2" text-anchor="middle" font-weight="bold" textLength="87.50" lengthAdjust="spacingAndGlyphs" transform="rotate(-90 23.30 484.30)" >Survival (% of control)</text>
<line x1="257.50" y1="443.90" x2="257.50" y2="527.50" stroke="#111" stroke-width="1" />
<line x1="257.00" y1="527.50" x2="382.00" y2="527.50" stroke="#111" stroke-width="1.0" />
<line x1="254.90" y1="527.50" x2="257.50" y2="527.50" stroke="#111" stroke-width="0.8" />
<text x="254.20" y="529.60" font-size="8.2" text-anchor="end" fill="#333" >0</text>
<line x1="254.90" y1="499.76" x2="257.50" y2="499.76" stroke="#111" stroke-width="0.8" />
<text x="254.20" y="501.87" font-size="8.2" text-anchor="end" fill="#333" >50</text>
<line x1="254.90" y1="472.03" x2="257.50" y2="472.03" stroke="#111" stroke-width="0.8" />
<text x="254.20" y="474.13" font-size="8.2" text-anchor="end" fill="#333" >100</text>
<line x1="254.90" y1="444.30" x2="257.50" y2="444.30" stroke="#111" stroke-width="0.8" />
<text x="254.20" y="446.40" font-size="8.2" text-anchor="end" fill="#333" >150</text>
<text x="317.90" y="449.60" font-size="8.3" text-anchor="middle" font-weight="bold" textLength="44.00" lengthAdjust="spacingAndGlyphs" >CCD-18Co</text>
<line x1="276.10" y1="472.30" x2="276.10" y2="470.90" stroke="#111" stroke-width="0.9" />
<line x1="271.30" y1="470.90" x2="280.90" y2="470.90" stroke="#111" stroke-width="1.0" />
<rect x="267.30" y="472.80" width="17.60" height="54.70" fill="#e0392e" stroke="#111" stroke-width="1" />
<line x1="305.05" y1="476.30" x2="305.05" y2="474.40" stroke="#111" stroke-width="0.9" />
<line x1="300.25" y1="474.40" x2="309.85" y2="474.40" stroke="#111" stroke-width="1.0" />
<rect x="296.20" y="476.80" width="17.70" height="50.70" fill="#3446a0" stroke="#b0b0b0" stroke-width="1" />
<line x1="334.05" y1="472.30" x2="334.05" y2="470.90" stroke="#111" stroke-width="0.9" />
<line x1="329.25" y1="470.90" x2="338.85" y2="470.90" stroke="#111" stroke-width="1.0" />
<rect x="325.20" y="472.80" width="17.70" height="54.70" fill="#62c010" stroke="#a0a0a0" stroke-width="1" />
<line x1="362.30" y1="479.80" x2="362.30" y2="477.40" stroke="#111" stroke-width="0.9" />
<line x1="357.50" y1="477.40" x2="367.10" y2="477.40" stroke="#111" stroke-width="1.0" />
<rect x="353.60" y="480.30" width="17.40" height="47.20" fill="#9a5a1a" stroke="#c8c8c8" stroke-width="1" />
<line x1="318.80" y1="527.50" x2="318.80" y2="529.30" stroke="#111" stroke-width="0.9" />
<text x="276.10" y="541.00" font-size="7.0" text-anchor="middle" fill="#111" >-</text>
<text x="276.10" y="551.20" font-size="7.0" text-anchor="middle" fill="#111" >-</text>
<text x="305.05" y="541.00" font-size="7.0" text-anchor="middle" fill="#111" >+</text>
<text x="305.05" y="551.20" font-size="7.0" text-anchor="middle" fill="#111" >-</text>
<text x="334.05" y="541.00" font-size="7.0" text-anchor="middle" fill="#111" >-</text>
<text x="334.05" y="551.20" font-size="7.0" text-anchor="middle" fill="#111" >+</text>
<text x="362.30" y="541.00" font-size="7.0" text-anchor="middle" fill="#111" >+</text>
<text x="362.30" y="551.20" font-size="7.0" text-anchor="middle" fill="#111" >+</text>
<text x="255.20" y="541.30" font-size="8.1" text-anchor="end" fill="#333" >5-FU</text>
<text x="255.20" y="551.50" font-size="8.1" text-anchor="end" fill="#333" >TAZ</text>
<text x="236.40" y="484.70" font-size="8.2" text-anchor="middle" font-weight="bold" textLength="88.40" lengthAdjust="spacingAndGlyphs" transform="rotate(-90 236.40 484.70)" >Survival (% of control)</text>
<line x1="45.00" y1="576.50" x2="45.00" y2="661.50" stroke="#555" stroke-width="2.0" />
<line x1="44.00" y1="659.50" x2="163.30" y2="659.50" stroke="#111" stroke-width="1.3" />
<line x1="42.80" y1="659.50" x2="45.00" y2="659.50" stroke="#111" stroke-width="1.0" />
<text x="41.00" y="662.80" font-size="8.4" text-anchor="end" fill="#444" >0</text>
<line x1="42.80" y1="640.50" x2="45.00" y2="640.50" stroke="#111" stroke-width="1.0" />
<text x="41.00" y="643.80" font-size="8.4" text-anchor="end" fill="#444" >25</text>
<line x1="42.80" y1="621.50" x2="45.00" y2="621.50" stroke="#111" stroke-width="1.0" />
<text x="41.00" y="624.80" font-size="8.4" text-anchor="end" fill="#444" >50</text>
<line x1="42.80" y1="602.50" x2="45.00" y2="602.50" stroke="#111" stroke-width="1.0" />
<text x="41.00" y="605.80" font-size="8.4" text-anchor="end" fill="#444" >75</text>
<line x1="42.80" y1="583.50" x2="45.00" y2="583.50" stroke="#111" stroke-width="1.0" />
<text x="41.00" y="586.80" font-size="8.4" text-anchor="end" fill="#444" >100</text>
<line x1="68.20" y1="659.50" x2="68.20" y2="661.70" stroke="#111" stroke-width="1.0" />
<line x1="91.90" y1="659.50" x2="91.90" y2="661.70" stroke="#111" stroke-width="1.0" />
<line x1="115.60" y1="659.50" x2="115.60" y2="661.70" stroke="#111" stroke-width="1.0" />
<line x1="139.30" y1="659.50" x2="139.30" y2="661.70" stroke="#111" stroke-width="1.0" />
<line x1="163.00" y1="659.50" x2="163.00" y2="661.70" stroke="#111" stroke-width="1.0" />
<text x="106.50" y="577.10" font-size="8.3" text-anchor="middle" font-weight="bold" textLength="32.20" lengthAdjust="spacingAndGlyphs" >HCT116</text>
<path d="M44.50,583.50 L68.20,610.10 L91.90,623.02 L115.60,626.44 L139.30,636.70 L163.00,642.78" fill="none" stroke="#2c3eb0" stroke-width="0.9"/>
<line x1="44.50" y1="582.36" x2="44.50" y2="584.64" stroke="#2c3eb0" stroke-width="0.8" />
<line x1="43.00" y1="582.36" x2="46.00" y2="582.36" stroke="#2c3eb0" stroke-width="0.8" />
<line x1="43.00" y1="584.64" x2="46.00" y2="584.64" stroke="#2c3eb0" stroke-width="0.8" />
<rect x="43.10" y="582.10" width="2.80" height="2.80" fill="#2c3eb0" />
<line x1="68.20" y1="606.68" x2="68.20" y2="613.52" stroke="#2c3eb0" stroke-width="0.8" />
<line x1="66.70" y1="606.68" x2="69.70" y2="606.68" stroke="#2c3eb0" stroke-width="0.8" />
<line x1="66.70" y1="613.52" x2="69.70" y2="613.52" stroke="#2c3eb0" stroke-width="0.8" />
<rect x="66.80" y="608.70" width="2.80" height="2.80" fill="#2c3eb0" />
<line x1="91.90" y1="621.12" x2="91.90" y2="624.92" stroke="#2c3eb0" stroke-width="0.8" />
<line x1="90.40" y1="621.12" x2="93.40" y2="621.12" stroke="#2c3eb0" stroke-width="0.8" />
<line x1="90.40" y1="624.92" x2="93.40" y2="624.92" stroke="#2c3eb0" stroke-width="0.8" />
<rect x="90.50" y="621.62" width="2.80" height="2.80" fill="#2c3eb0" />
<line x1="115.60" y1="622.64" x2="115.60" y2="630.24" stroke="#2c3eb0" stroke-width="0.8" />
<line x1="114.10" y1="622.64" x2="117.10" y2="622.64" stroke="#2c3eb0" stroke-width="0.8" />
<line x1="114.10" y1="630.24" x2="117.10" y2="630.24" stroke="#2c3eb0" stroke-width="0.8" />
<rect x="114.20" y="625.04" width="2.80" height="2.80" fill="#2c3eb0" />
<line x1="139.30" y1="633.66" x2="139.30" y2="639.74" stroke="#2c3eb0" stroke-width="0.8" />
<line x1="137.80" y1="633.66" x2="140.80" y2="633.66" stroke="#2c3eb0" stroke-width="0.8" />
<line x1="137.80" y1="639.74" x2="140.80" y2="639.74" stroke="#2c3eb0" stroke-width="0.8" />
<rect x="137.90" y="635.30" width="2.80" height="2.80" fill="#2c3eb0" />
<line x1="163.00" y1="642.02" x2="163.00" y2="643.54" stroke="#2c3eb0" stroke-width="0.8" />
<line x1="161.50" y1="642.02" x2="164.50" y2="642.02" stroke="#2c3eb0" stroke-width="0.8" />
<line x1="161.50" y1="643.54" x2="164.50" y2="643.54" stroke="#2c3eb0" stroke-width="0.8" />
<rect x="161.60" y="641.38" width="2.80" height="2.80" fill="#2c3eb0" />
<path d="M44.50,582.74 L68.20,586.54 L91.90,590.34 L115.60,593.76 L139.30,597.18 L163.00,599.46" fill="none" stroke="#111" stroke-width="0.9"/>
<line x1="44.50" y1="581.22" x2="44.50" y2="584.26" stroke="#111" stroke-width="0.8" />
<line x1="43.00" y1="581.22" x2="46.00" y2="581.22" stroke="#111" stroke-width="0.8" />
<line x1="43.00" y1="584.26" x2="46.00" y2="584.26" stroke="#111" stroke-width="0.8" />
<circle cx="44.50" cy="582.74" r="1.4" fill="#111"/>
<line x1="68.20" y1="585.02" x2="68.20" y2="588.06" stroke="#111" stroke-width="0.8" />
<line x1="66.70" y1="585.02" x2="69.70" y2="585.02" stroke="#111" stroke-width="0.8" />
<line x1="66.70" y1="588.06" x2="69.70" y2="588.06" stroke="#111" stroke-width="0.8" />
<circle cx="68.20" cy="586.54" r="1.4" fill="#111"/>
<line x1="91.90" y1="589.20" x2="91.90" y2="591.48" stroke="#111" stroke-width="0.8" />
<line x1="90.40" y1="589.20" x2="93.40" y2="589.20" stroke="#111" stroke-width="0.8" />
<line x1="90.40" y1="591.48" x2="93.40" y2="591.48" stroke="#111" stroke-width="0.8" />
<circle cx="91.90" cy="590.34" r="1.4" fill="#111"/>
<line x1="115.60" y1="591.48" x2="115.60" y2="596.04" stroke="#111" stroke-width="0.8" />
<line x1="114.10" y1="591.48" x2="117.10" y2="591.48" stroke="#111" stroke-width="0.8" />
<line x1="114.10" y1="596.04" x2="117.10" y2="596.04" stroke="#111" stroke-width="0.8" />
<circle cx="115.60" cy="593.76" r="1.4" fill="#111"/>
<line x1="139.30" y1="595.28" x2="139.30" y2="599.08" stroke="#111" stroke-width="0.8" />
<line x1="137.80" y1="595.28" x2="140.80" y2="595.28" stroke="#111" stroke-width="0.8" />
<line x1="137.80" y1="599.08" x2="140.80" y2="599.08" stroke="#111" stroke-width="0.8" />
<circle cx="139.30" cy="597.18" r="1.4" fill="#111"/>
<line x1="163.00" y1="598.70" x2="163.00" y2="600.22" stroke="#111" stroke-width="0.8" />
<line x1="161.50" y1="598.70" x2="164.50" y2="598.70" stroke="#111" stroke-width="0.8" />
<line x1="161.50" y1="600.22" x2="164.50" y2="600.22" stroke="#111" stroke-width="0.8" />
<circle cx="163.00" cy="599.46" r="1.4" fill="#111"/>
<path d="M44.50,583.50 L68.20,586.92 L91.90,591.48 L115.60,597.94 L139.30,599.46 L163.00,600.22" fill="none" stroke="#d42020" stroke-width="0.9"/>
<line x1="44.50" y1="582.36" x2="44.50" y2="584.64" stroke="#d42020" stroke-width="0.8" />
<line x1="43.00" y1="582.36" x2="46.00" y2="582.36" stroke="#d42020" stroke-width="0.8" />
<line x1="43.00" y1="584.64" x2="46.00" y2="584.64" stroke="#d42020" stroke-width="0.8" />
<path d="M42.90,584.70 L46.10,584.70 L44.50,581.90Z" fill="#d42020"/>
<line x1="68.20" y1="583.12" x2="68.20" y2="590.72" stroke="#d42020" stroke-width="0.8" />
<line x1="66.70" y1="583.12" x2="69.70" y2="583.12" stroke="#d42020" stroke-width="0.8" />
<line x1="66.70" y1="590.72" x2="69.70" y2="590.72" stroke="#d42020" stroke-width="0.8" />
<path d="M66.60,588.12 L69.80,588.12 L68.20,585.32Z" fill="#d42020"/>
<line x1="91.90" y1="590.34" x2="91.90" y2="592.62" stroke="#d42020" stroke-width="0.8" />
<line x1="90.40" y1="590.34" x2="93.40" y2="590.34" stroke="#d42020" stroke-width="0.8" />
<line x1="90.40" y1="592.62" x2="93.40" y2="592.62" stroke="#d42020" stroke-width="0.8" />
<path d="M90.30,592.68 L93.50,592.68 L91.90,589.88Z" fill="#d42020"/>
<line x1="115.60" y1="595.66" x2="115.60" y2="600.22" stroke="#d42020" stroke-width="0.8" />
<line x1="114.10" y1="595.66" x2="117.10" y2="595.66" stroke="#d42020" stroke-width="0.8" />
<line x1="114.10" y1="600.22" x2="117.10" y2="600.22" stroke="#d42020" stroke-width="0.8" />
<path d="M114.00,599.14 L117.20,599.14 L115.60,596.34Z" fill="#d42020"/>
<line x1="139.30" y1="597.94" x2="139.30" y2="600.98" stroke="#d42020" stroke-width="0.8" />
<line x1="137.80" y1="597.94" x2="140.80" y2="597.94" stroke="#d42020" stroke-width="0.8" />
<line x1="137.80" y1="600.98" x2="140.80" y2="600.98" stroke="#d42020" stroke-width="0.8" />
<path d="M137.70,600.66 L140.90,600.66 L139.30,597.86Z" fill="#d42020"/>
<line x1="163.00" y1="599.08" x2="163.00" y2="601.36" stroke="#d42020" stroke-width="0.8" />
<line x1="161.50" y1="599.08" x2="164.50" y2="599.08" stroke="#d42020" stroke-width="0.8" />
<line x1="161.50" y1="601.36" x2="164.50" y2="601.36" stroke="#d42020" stroke-width="0.8" />
<path d="M161.40,601.42 L164.60,601.42 L163.00,598.62Z" fill="#d42020"/>
<line x1="50.20" y1="630.90" x2="58.60" y2="630.90" stroke="#111" stroke-width="0.9" />
<circle cx="54.40" cy="630.90" r="1.4" fill="#111"/>
<text x="63.20" y="633.90" font-size="8.4" fill="#222" >5-FU</text>
<line x1="50.20" y1="640.90" x2="58.60" y2="640.90" stroke="#d42020" stroke-width="0.9" />
<path d="M52.80,642.10 L56.00,642.10 L54.40,639.30Z" fill="#d42020"/>
<text x="63.20" y="643.90" font-size="8.4" fill="#222" >TAZ</text>
<line x1="50.20" y1="651.30" x2="58.60" y2="651.30" stroke="#2c3eb0" stroke-width="0.9" />
<rect x="53.00" y="649.90" width="2.80" height="2.80" fill="#2c3eb0" />
<text x="63.20" y="654.30" font-size="8.4" fill="#222" >5-FU+TAZ</text>
<text x="46.70" y="672.10" font-size="8.2" text-anchor="middle" fill="#333" >0</text>
<text x="46.70" y="683.20" font-size="8.2" text-anchor="middle" fill="#333" >0</text>
<text x="68.20" y="672.10" font-size="8.2" text-anchor="middle" fill="#333" >0.32</text>
<text x="68.20" y="683.20" font-size="8.2" text-anchor="middle" fill="#333" >0.01</text>
<text x="91.90" y="672.10" font-size="8.2" text-anchor="middle" fill="#333" >0.63</text>
<text x="91.90" y="683.20" font-size="8.2" text-anchor="middle" fill="#333" >0.05</text>
<text x="115.60" y="672.10" font-size="8.2" text-anchor="middle" fill="#333" >1.25</text>
<text x="115.60" y="683.20" font-size="8.2" text-anchor="middle" fill="#333" >0.1</text>
<text x="139.30" y="672.10" font-size="8.2" text-anchor="middle" fill="#333" >2.5</text>
<text x="139.30" y="683.20" font-size="8.2" text-anchor="middle" fill="#333" >0.5</text>
<text x="163.00" y="672.10" font-size="8.2" text-anchor="middle" fill="#333" >5</text>
<text x="163.00" y="683.20" font-size="8.2" text-anchor="middle" fill="#333" >1</text>
<text x="41.80" y="672.10" font-size="8.2" text-anchor="end" fill="#333" >5-FU</text>
<text x="41.80" y="683.20" font-size="8.2" text-anchor="end" fill="#333" >TAZ</text>
<text x="168.80" y="671.30" font-size="8.2" fill="#333" >(&#956;g/mL)</text>
<text x="168.80" y="683.20" font-size="8.2" fill="#333" >(&#956;M)</text>
<text x="24.20" y="619.00" font-size="7.5" text-anchor="middle" font-weight="bold" textLength="65.70" lengthAdjust="spacingAndGlyphs" transform="rotate(-90 24.20 619.00)" >Survival fraction</text>
<line x1="257.50" y1="578.00" x2="257.50" y2="663.40" stroke="#222" stroke-width="1.2" />
<line x1="256.70" y1="661.20" x2="382.00" y2="661.20" stroke="#111" stroke-width="1.6" />
<line x1="255.30" y1="661.20" x2="257.50" y2="661.20" stroke="#111" stroke-width="1.0" />
<text x="255.20" y="664.20" font-size="8.4" text-anchor="end" fill="#444" >0.0</text>
<line x1="255.30" y1="640.48" x2="257.50" y2="640.48" stroke="#111" stroke-width="1.0" />
<text x="255.20" y="643.48" font-size="8.4" text-anchor="end" fill="#444" >0.5</text>
<line x1="255.30" y1="619.75" x2="257.50" y2="619.75" stroke="#111" stroke-width="1.0" />
<text x="255.20" y="622.75" font-size="8.4" text-anchor="end" fill="#444" >1.0</text>
<line x1="255.30" y1="599.03" x2="257.50" y2="599.03" stroke="#111" stroke-width="1.0" />
<text x="255.20" y="602.03" font-size="8.4" text-anchor="end" fill="#444" >1.5</text>
<line x1="255.30" y1="578.30" x2="257.50" y2="578.30" stroke="#111" stroke-width="1.0" />
<text x="255.20" y="581.30" font-size="8.4" text-anchor="end" fill="#444" >2.0</text>
<line x1="319.70" y1="661.20" x2="319.70" y2="663.40" stroke="#111" stroke-width="1.0" />
<line x1="381.90" y1="661.20" x2="381.90" y2="663.40" stroke="#111" stroke-width="1.0" />
<line x1="257.90" y1="599.03" x2="381.60" y2="599.03" stroke="#111" stroke-width="1.5" stroke-dasharray="3.3,2.9"/>
<line x1="257.50" y1="619.75" x2="381.60" y2="619.75" stroke="#111" stroke-width="1.6" />
<line x1="257.90" y1="640.48" x2="381.60" y2="640.48" stroke="#111" stroke-width="1.5" stroke-dasharray="3.3,2.9"/>
<text x="259.30" y="671.20" font-size="8.2" text-anchor="middle" fill="#333" >0.0</text>
<text x="321.50" y="671.20" font-size="8.2" text-anchor="middle" fill="#333" >0.5</text>
<text x="383.60" y="671.20" font-size="8.2" text-anchor="middle" fill="#333" >1.0</text>
<text x="320.20" y="681.50" font-size="6.8" text-anchor="middle" font-weight="bold" >FA</text>
<text x="317.70" y="576.70" font-size="8.3" text-anchor="middle" font-weight="bold" textLength="31.60" lengthAdjust="spacingAndGlyphs" >HCT116</text>
<text x="266.60" y="611.20" font-size="6.8" fill="#1ca51c" textLength="36.20" lengthAdjust="spacingAndGlyphs" >Antagonism</text>
<text x="267.50" y="632.00" font-size="6.8" fill="#e02020" textLength="33.00" lengthAdjust="spacingAndGlyphs" >Synergism</text>
<circle cx="302.3" cy="646.6" r="1.6" fill="#e02020"/>
<circle cx="313.6" cy="648.7" r="1.6" fill="#e02020"/>
<circle cx="317.3" cy="650.8" r="1.6" fill="#e02020"/>
<circle cx="350.9" cy="656.4" r="1.6" fill="#e02020"/>
<circle cx="359.6" cy="658.5" r="1.6" fill="#e02020"/>
<text x="239.30" y="620.40" font-size="7.3" text-anchor="middle" font-weight="bold" textLength="74.40" lengthAdjust="spacingAndGlyphs" transform="rotate(-90 239.30 620.40)" >Combination index</text>
</svg>
</body></html>
